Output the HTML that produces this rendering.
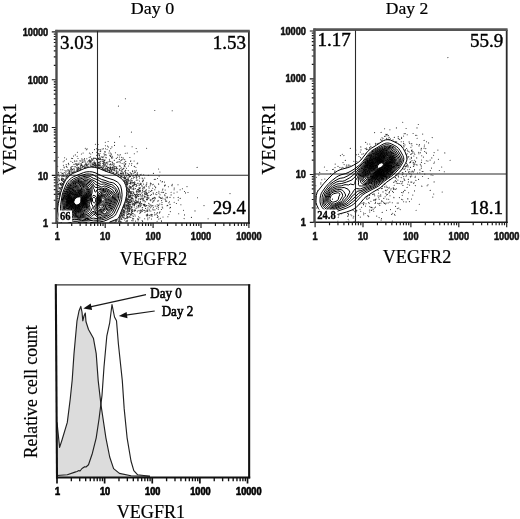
<!DOCTYPE html>
<html><head><meta charset="utf-8"><title>VEGFR flow cytometry</title>
<style>html,body{margin:0;padding:0;background:#fff;}svg{display:block;will-change:transform;filter:grayscale(1);}</style>
</head><body>
<svg width="520" height="519" viewBox="0 0 520 519">
<rect width="520" height="519" fill="#fff"/>
<path d="M57.30 223.1v5M56.80 223.10h-5M71.72 223.1v3M56.80 208.71h-3M80.15 223.1v3M56.80 200.29h-3M86.14 223.1v3M56.80 194.32h-3M90.78 223.1v3M56.80 189.69h-3M94.57 223.1v3M56.80 185.90h-3M97.78 223.1v3M56.80 182.70h-3M100.56 223.1v3M56.80 179.93h-3M103.01 223.1v3M56.80 177.49h-3M105.20 223.1v5M56.80 175.30h-5M119.62 223.1v3M56.80 160.91h-3M128.05 223.1v3M56.80 152.49h-3M134.04 223.1v3M56.80 146.52h-3M138.68 223.1v3M56.80 141.89h-3M142.47 223.1v3M56.80 138.10h-3M145.68 223.1v3M56.80 134.90h-3M148.46 223.1v3M56.80 132.13h-3M150.91 223.1v3M56.80 129.69h-3M153.10 223.1v5M56.80 127.50h-5M167.52 223.1v3M56.80 113.11h-3M175.95 223.1v3M56.80 104.69h-3M181.94 223.1v3M56.80 98.72h-3M186.58 223.1v3M56.80 94.09h-3M190.37 223.1v3M56.80 90.30h-3M193.58 223.1v3M56.80 87.10h-3M196.36 223.1v3M56.80 84.33h-3M198.81 223.1v3M56.80 81.89h-3M201.00 223.1v5M56.80 79.70h-5M215.42 223.1v3M56.80 65.31h-3M223.85 223.1v3M56.80 56.89h-3M229.84 223.1v3M56.80 50.92h-3M234.48 223.1v3M56.80 46.29h-3M238.27 223.1v3M56.80 42.50h-3M241.48 223.1v3M56.80 39.30h-3M244.26 223.1v3M56.80 36.53h-3M246.71 223.1v3M56.80 34.09h-3M248.90 223.1v5M56.80 31.90h-5" stroke="#1a1a1a" stroke-width="1.15" fill="none"/>
<line x1="248.9" y1="31.099999999999998" x2="248.9" y2="223.79999999999998" stroke="#2a2a2a" stroke-width="1.8"/>
<line x1="55.4" y1="223.1" x2="249.8" y2="223.1" stroke="#1a1a1a" stroke-width="1.5"/>
<line x1="56.5" y1="29.9" x2="56.5" y2="223.79999999999998" stroke="#4a4a4a" stroke-width="2.4"/>
<line x1="55.3" y1="31.099999999999998" x2="249.8" y2="31.099999999999998" stroke="#555" stroke-width="2.7"/>
<text x="57.3" y="240.4" font-family="Liberation Sans, sans-serif" font-size="10.1" font-weight="bold" text-anchor="middle" textLength="5.1" lengthAdjust="spacingAndGlyphs" fill="#111" stroke="#111" stroke-width="0.55">1</text>
<text x="48.199999999999996" y="227.29999999999998" font-family="Liberation Sans, sans-serif" font-size="10.1" font-weight="bold" text-anchor="end" textLength="5.1" lengthAdjust="spacingAndGlyphs" fill="#111" stroke="#111" stroke-width="0.55">1</text>
<text x="105.2" y="240.4" font-family="Liberation Sans, sans-serif" font-size="10.1" font-weight="bold" text-anchor="middle" textLength="10.2" lengthAdjust="spacingAndGlyphs" fill="#111" stroke="#111" stroke-width="0.55">10</text>
<text x="48.199999999999996" y="179.5" font-family="Liberation Sans, sans-serif" font-size="10.1" font-weight="bold" text-anchor="end" textLength="10.2" lengthAdjust="spacingAndGlyphs" fill="#111" stroke="#111" stroke-width="0.55">10</text>
<text x="153.10000000000002" y="240.4" font-family="Liberation Sans, sans-serif" font-size="10.1" font-weight="bold" text-anchor="middle" textLength="15.299999999999999" lengthAdjust="spacingAndGlyphs" fill="#111" stroke="#111" stroke-width="0.55">100</text>
<text x="48.199999999999996" y="131.7" font-family="Liberation Sans, sans-serif" font-size="10.1" font-weight="bold" text-anchor="end" textLength="15.299999999999999" lengthAdjust="spacingAndGlyphs" fill="#111" stroke="#111" stroke-width="0.55">100</text>
<text x="201.0" y="240.4" font-family="Liberation Sans, sans-serif" font-size="10.1" font-weight="bold" text-anchor="middle" textLength="20.4" lengthAdjust="spacingAndGlyphs" fill="#111" stroke="#111" stroke-width="0.55">1000</text>
<text x="48.199999999999996" y="83.90000000000002" font-family="Liberation Sans, sans-serif" font-size="10.1" font-weight="bold" text-anchor="end" textLength="20.4" lengthAdjust="spacingAndGlyphs" fill="#111" stroke="#111" stroke-width="0.55">1000</text>
<text x="248.90000000000003" y="240.4" font-family="Liberation Sans, sans-serif" font-size="10.1" font-weight="bold" text-anchor="middle" textLength="25.5" lengthAdjust="spacingAndGlyphs" fill="#111" stroke="#111" stroke-width="0.55">10000</text>
<text x="48.199999999999996" y="36.10000000000001" font-family="Liberation Sans, sans-serif" font-size="10.1" font-weight="bold" text-anchor="end" textLength="25.5" lengthAdjust="spacingAndGlyphs" fill="#111" stroke="#111" stroke-width="0.55">10000</text>
<line x1="97.5" y1="31" x2="97.5" y2="223" stroke="#2a2a2a" stroke-width="1.1"/>
<line x1="57" y1="175.2" x2="248" y2="175.2" stroke="#2a2a2a" stroke-width="1.1"/>
<path d="M61.5 222.5 60.1 221.0 59.4 219.2 57.8 211.0 57.7 207.5 58.3 203.5 60.8 192.2 63.2 185.0 64.7 181.5 66.2 179.2 68.0 177.1 70.2 175.1 72.2 173.7 84.0 168.7 88.2 167.4 91.2 167.0 94.8 167.4 99.0 168.4 106.0 171.4 112.8 173.6 116.2 175.2 120.2 177.7 122.5 179.6 124.4 182.2 125.8 185.5 126.5 188.2 126.7 191.5 126.6 194.8 126.1 198.0 125.0 202.0 119.2 216.7 118.3 218.2 117.2 219.2 112.5 220.8 109.3 222.5M71.4 222.5 68.8 222.0 66.8 221.4 65.4 220.8 64.2 219.8 62.9 217.5 60.9 211.2 60.5 208.2 60.7 204.5 62.2 195.0 63.4 191.0 65.8 185.0 67.1 182.5 68.8 180.3 71.4 178.0 73.8 176.6 83.5 172.6 86.2 171.9 89.5 171.7 92.2 171.9 95.0 172.7 104.8 177.2 113.8 180.0 117.2 181.9 119.3 183.8 120.7 186.2 121.6 190.0 122.1 194.8 121.7 199.5 120.6 203.8 119.4 206.8 116.3 213.5 115.4 215.0 114.5 215.9 113.3 216.8 107.0 220.0 103.8 221.2 99.8 221.9 94.0 222.1 90.4 222.5M87.3 222.5 82.2 221.9 77.9 222.5M77.0 221.3 74.0 221.3 70.5 220.6 68.5 219.9 66.0 218.4 65.0 217.4 64.2 216.2 62.2 210.0 62.0 208.2 62.1 202.2 63.3 194.5 64.6 191.0 68.1 184.0 69.0 182.5 70.0 181.4 73.5 178.8 77.5 177.2 81.0 175.5 86.2 174.0 89.5 174.0 91.8 174.4 93.2 174.8 96.2 176.7 101.8 179.5 105.0 180.4 109.5 182.2 112.2 182.6 113.2 182.9 115.0 184.0 117.1 186.0 118.3 188.0 119.7 191.8 120.2 195.5 120.1 198.5 119.4 201.2 118.4 204.0 114.2 213.0 112.9 214.8 106.5 218.5 104.8 219.1 101.5 219.9 97.5 220.3 93.5 220.1 88.8 220.9 81.5 220.5 77.0 221.3M89.2 219.5 86.5 219.7 82.2 219.0 78.8 219.5 74.2 219.6 71.8 219.1 70.0 218.4 68.2 217.0 66.0 215.6 65.4 214.8 64.2 212.3 63.4 209.5 63.4 205.5 62.9 202.8 63.7 196.5 64.1 194.5 68.9 185.0 70.4 182.8 71.8 181.6 73.8 180.4 80.5 177.4 82.5 176.8 87.0 176.0 89.0 176.1 90.2 176.4 93.2 178.2 98.0 179.9 101.0 181.9 104.8 182.4 109.2 184.1 111.8 184.6 112.8 185.1 115.5 187.8 116.9 189.8 118.2 192.8 118.7 195.8 118.4 198.8 116.5 204.0 112.6 212.2 111.5 213.6 106.5 216.8 101.5 218.6 100.0 218.8 98.0 218.8 93.5 218.1 92.2 218.4 89.2 219.5M88.0 218.5 86.0 218.5 83.0 217.6 79.2 218.4 76.2 218.0 73.5 218.0 72.0 217.6 70.8 217.0 66.8 213.5 65.1 211.2 64.5 209.2 64.3 205.2 63.8 202.5 64.3 197.0 64.7 195.0 69.5 185.8 71.0 183.5 72.0 182.6 73.2 181.8 76.5 180.5 78.8 179.3 83.5 178.0 85.5 177.7 88.0 177.7 89.2 178.0 91.5 179.5 94.4 180.8 96.5 182.3 100.5 184.2 101.5 184.4 103.5 184.0 104.8 184.0 108.0 185.5 111.7 186.8 114.0 188.3 114.9 189.2 117.0 193.8 117.4 195.5 117.0 198.5 115.4 203.5 114.5 205.4 111.2 211.3 107.3 215.0 106.0 215.7 103.5 216.4 101.2 217.4 99.5 217.6 98.2 217.4 97.2 217.0 96.3 216.2 95.0 214.7 94.0 214.4 93.5 214.6 92.4 216.0 91.5 216.8 89.5 218.0 88.0 218.5M79.8 217.5 78.8 217.6 76.2 217.0 73.5 216.8 71.5 216.0 70.3 215.0 66.7 211.2 65.9 210.0 65.5 208.5 64.7 202.5 64.9 200.2 64.9 197.8 65.1 196.0 65.6 194.8 68.1 190.2 70.0 186.2 71.2 184.5 72.2 183.3 73.8 182.4 76.5 181.4 79.0 180.3 80.0 180.1 82.0 180.1 84.8 179.0 86.5 179.0 88.2 179.5 92.5 181.4 93.3 182.0 94.5 183.5 95.5 184.4 99.0 185.8 101.0 187.0 102.0 187.1 104.0 186.0 105.0 186.0 109.7 188.0 113.0 190.2 114.0 192.0 115.7 194.0 116.0 194.8 116.1 196.0 115.6 199.0 114.4 203.2 112.7 206.2 111.2 209.2 110.2 210.5 108.2 212.0 106.6 214.2 105.5 214.9 102.8 215.1 100.5 216.1 99.5 216.2 98.0 215.7 95.0 213.2 93.5 212.8 92.5 213.2 91.2 214.8 90.3 215.8 88.0 217.1 86.5 217.3 82.8 216.7 79.8 217.5M79.8 216.8 78.5 216.8 74.0 215.9 71.8 214.8 69.2 212.5 67.7 210.8 66.8 209.1 66.0 206.8 65.7 203.5 65.8 200.5 65.6 198.0 65.8 196.0 66.6 194.2 68.9 190.2 70.6 186.5 71.8 184.9 73.0 183.7 79.0 181.3 82.5 181.4 85.0 180.4 86.2 180.3 88.5 181.2 90.8 181.9 91.7 182.5 92.6 183.5 94.5 186.8 95.1 187.2 96.0 187.5 98.5 187.5 101.8 188.8 102.8 188.7 104.8 188.0 106.0 188.2 110.5 190.7 113.2 192.9 114.5 194.2 114.9 195.2 114.9 196.2 114.5 199.0 113.5 202.7 111.8 205.3 110.2 209.0 109.2 209.9 106.9 211.0 106.6 211.5 106.2 212.9 105.8 213.5 104.8 213.8 102.8 213.6 100.0 214.6 99.0 214.6 97.8 214.1 94.2 211.7 93.0 211.4 92.0 212.0 89.8 214.5 88.0 215.5 86.2 216.0 82.0 216.0 79.8 216.8M94.8 202.8 95.2 202.2 95.6 201.2 95.7 199.8 95.6 198.8 95.2 198.1 94.8 197.7 94.0 197.5 93.2 197.5 92.6 198.0 92.3 198.8 92.6 201.2 93.0 202.2 93.5 202.6 94.2 202.9 94.8 202.8M79.2 216.0 78.0 216.0 74.2 215.1 72.0 213.9 70.0 212.1 68.9 210.8 67.1 207.8 66.5 206.0 66.3 203.8 66.5 200.2 66.3 197.8 66.6 195.8 67.8 193.2 69.9 190.0 71.4 186.5 72.2 185.4 73.2 184.6 76.2 183.2 78.8 182.4 82.2 182.3 85.2 181.7 86.2 181.7 90.0 183.0 91.3 184.0 92.5 185.7 93.5 188.4 94.5 189.8 94.7 191.5 95.0 191.9 95.5 192.0 96.1 191.8 96.4 191.2 96.9 190.0 98.0 189.3 99.0 189.3 101.8 189.9 104.5 189.3 105.2 189.3 106.5 189.7 109.8 191.6 112.2 193.4 113.3 194.5 113.7 195.5 113.7 196.8 112.7 201.8 112.2 202.8 110.8 204.8 109.4 208.2 108.5 209.0 105.8 209.9 104.1 211.5 103.3 212.0 101.0 212.9 99.2 213.2 98.0 213.0 96.5 212.2 95.0 210.8 94.0 209.2 93.8 208.2 93.9 207.2 95.8 204.3 96.5 202.5 96.8 201.0 96.8 199.0 96.5 197.4 96.0 196.5 94.0 195.4 93.0 195.5 92.0 196.5 91.4 197.8 91.3 203.0 91.6 204.2 92.9 206.2 93.1 207.2 92.0 208.7 90.5 211.7 89.0 213.2 86.0 214.7 84.5 215.1 81.5 215.4 79.2 216.0M79.5 215.0 77.8 215.1 73.5 213.9 71.3 212.2 69.7 210.5 67.5 206.9 67.0 205.2 66.8 203.5 67.1 200.2 66.9 197.8 67.1 196.2 68.2 193.5 70.6 190.2 72.2 186.8 73.2 185.6 76.5 184.2 79.2 183.4 84.8 182.9 85.8 182.9 89.0 184.1 90.5 185.1 91.5 186.5 92.1 189.2 92.1 192.8 90.6 197.5 90.5 200.8 89.1 204.0 89.2 205.0 90.0 207.2 89.9 209.0 89.5 210.0 89.0 210.8 85.4 213.8 83.8 214.4 79.5 215.0M101.0 211.8 99.0 211.9 97.5 211.5 96.4 210.5 95.8 209.0 95.9 206.8 97.6 201.5 97.4 194.5 98.3 192.5 98.8 191.8 99.5 191.2 102.0 190.9 104.2 190.3 105.2 190.3 106.7 191.0 111.8 194.5 112.3 195.2 112.5 196.0 112.4 198.0 111.4 202.0 110.0 204.2 108.6 207.5 107.8 208.1 105.5 208.8 102.8 211.0 101.0 211.8M79.2 214.0 77.5 214.0 73.8 213.2 72.0 212.0 70.6 210.5 68.0 206.5 67.4 205.0 67.3 203.2 67.6 200.0 67.6 196.2 68.6 193.8 71.4 190.5 72.6 187.5 73.5 186.4 75.5 185.6 78.5 184.9 80.8 184.1 83.2 183.8 85.2 183.9 87.3 184.8 89.8 186.5 90.5 187.6 90.9 189.5 91.0 193.0 89.9 197.5 89.7 200.2 88.3 202.8 88.0 203.8 88.0 205.0 88.6 207.5 88.6 208.5 88.4 209.2 87.8 210.1 84.3 213.2 82.8 213.8 79.2 214.0M101.5 210.6 100.0 210.7 98.5 210.5 97.5 209.8 96.9 208.5 96.9 206.8 98.3 201.5 98.1 198.2 98.2 196.2 98.9 194.2 100.0 192.9 103.8 191.3 105.0 191.3 106.2 191.9 110.2 195.1 111.1 196.5 111.2 198.0 110.4 201.8 108.0 206.3 107.2 207.0 105.2 207.7 103.0 209.8 101.5 210.6M79.5 213.0 77.2 213.1 74.2 212.6 72.7 211.8 71.3 210.2 68.4 206.0 67.8 204.5 67.7 203.0 68.1 199.8 68.1 196.2 68.5 195.0 69.0 194.0 72.0 190.8 73.1 188.0 74.0 187.0 76.0 186.3 79.0 186.0 81.9 184.8 83.2 184.6 84.8 184.7 86.6 185.5 88.4 187.2 89.5 189.0 90.1 191.2 90.1 193.5 89.1 197.5 88.8 199.8 87.5 202.2 87.2 203.3 87.2 205.0 87.5 208.2 87.2 209.0 86.5 210.0 83.8 212.4 82.2 212.9 79.5 213.0M101.0 209.5 99.8 209.4 98.8 209.1 98.2 208.5 97.8 207.8 97.8 206.5 98.9 201.5 98.6 198.5 98.7 197.0 99.5 195.2 100.5 194.1 103.5 192.6 104.8 192.5 108.2 194.9 109.6 196.2 110.0 197.8 109.5 200.8 109.0 202.0 107.2 205.5 104.8 206.9 102.5 209.0 101.0 209.5M79.0 212.3 77.5 212.4 75.5 212.2 74.2 211.9 73.2 211.4 72.0 210.2 68.9 205.8 68.3 204.5 68.1 203.2 68.6 199.8 68.6 196.0 69.1 194.8 69.7 193.8 72.6 191.0 73.8 188.5 74.5 187.6 76.2 187.0 79.2 187.2 82.2 185.6 83.2 185.4 84.5 185.5 85.8 186.0 86.9 187.0 88.8 190.0 89.4 192.0 89.1 194.8 87.8 199.8 86.7 203.0 86.5 208.0 86.1 209.0 85.5 209.8 83.2 211.5 82.0 211.9 79.0 212.3M101.5 208.0 100.5 208.0 99.8 207.8 99.2 207.3 99.1 206.8 99.1 204.0 99.5 201.2 99.1 199.0 99.1 197.8 99.7 196.2 100.8 195.1 102.5 194.2 104.0 194.0 106.8 195.3 108.0 196.1 108.7 197.2 108.7 198.5 108.0 201.8 106.7 204.5 106.0 205.1 104.2 206.0 102.2 207.7 101.5 208.0M79.2 211.5 76.2 211.6 74.8 211.4 73.8 210.9 72.5 209.9 69.2 205.5 68.7 204.2 68.5 203.0 69.0 199.8 68.9 197.0 69.0 196.0 69.9 194.2 73.0 191.5 74.4 189.0 75.1 188.2 76.5 187.9 79.5 188.2 80.5 187.9 82.8 186.5 84.5 186.5 85.3 186.8 86.0 187.3 88.3 190.8 88.7 192.5 88.5 194.5 86.2 202.3 85.6 207.2 85.2 208.5 84.2 209.8 82.8 210.7 81.5 211.2 79.2 211.5M102.5 205.8 101.8 205.9 101.0 205.8 100.5 205.4 100.1 204.8 99.8 203.5 100.0 201.0 99.6 198.2 99.9 197.0 100.8 196.0 102.0 195.2 103.5 195.0 104.8 195.4 106.8 196.7 107.3 197.5 107.4 198.5 106.9 201.8 106.0 203.9 105.3 204.5 102.5 205.8M78.5 211.0 76.0 211.0 73.8 210.2 72.7 209.2 69.5 205.1 69.0 204.0 68.9 203.0 69.5 199.8 69.3 197.0 69.5 196.0 70.3 194.5 73.4 191.8 75.0 189.6 75.6 189.0 76.8 188.8 78.8 189.2 79.8 189.2 80.8 188.9 83.0 187.6 83.8 187.5 84.5 187.6 85.5 188.3 87.5 191.0 87.9 192.0 88.0 193.0 87.8 195.0 85.9 201.8 85.0 206.5 84.2 208.5 83.0 209.7 81.5 210.4 78.5 211.0M103.2 204.3 102.5 204.5 101.8 204.4 101.2 204.1 100.8 203.5 100.5 202.5 100.6 201.0 100.1 198.8 100.3 197.8 100.9 196.8 101.9 196.0 103.0 195.7 104.0 196.0 105.5 197.0 106.1 198.0 106.3 199.0 106.0 201.5 105.3 203.2 104.8 203.7 103.2 204.3M77.5 210.5 75.2 210.2 73.5 209.3 69.8 204.7 69.3 203.8 69.2 202.8 69.9 199.8 69.8 197.0 69.9 196.0 70.9 194.5 73.7 192.2 76.0 189.9 77.0 189.8 79.8 190.0 83.2 188.8 84.2 188.8 85.2 189.5 86.6 191.2 87.1 192.2 87.3 193.5 87.1 195.2 85.5 201.2 84.7 205.5 83.7 208.0 82.5 209.2 80.8 210.0 77.5 210.5M103.2 203.0 102.2 203.1 101.5 202.6 101.2 202.1 101.2 201.0 100.7 199.2 100.8 198.2 101.2 197.5 102.0 196.8 102.8 196.6 103.5 196.7 104.5 197.4 105.1 198.2 105.4 199.2 105.2 200.8 104.8 201.8 104.2 202.6 103.2 203.0M79.0 209.8 76.8 209.9 74.2 209.2 73.0 208.2 70.4 205.0 69.8 203.8 69.6 202.8 70.3 199.8 70.2 196.5 70.7 195.5 71.3 194.8 76.2 190.9 77.0 190.7 80.0 190.6 83.0 189.8 84.0 189.9 85.0 190.5 85.8 191.5 86.4 192.8 86.6 194.0 86.5 195.8 85.2 200.6 84.6 204.2 83.6 206.8 82.5 208.4 81.2 209.2 79.0 209.8M103.0 201.6 102.5 201.6 102.0 201.2 101.6 199.5 101.9 198.2 102.8 197.7 103.2 197.8 103.8 198.2 104.3 199.5 104.0 200.7 103.0 201.6M78.8 209.3 76.5 209.3 74.2 208.6 73.0 207.6 70.5 204.5 70.1 203.8 70.0 202.8 70.7 199.8 70.7 196.5 71.2 195.5 72.0 194.7 76.5 191.7 77.5 191.4 80.2 191.2 82.8 190.8 83.8 190.9 84.5 191.3 85.3 192.2 85.8 193.5 86.0 194.8 85.8 196.2 84.2 204.0 83.2 206.4 82.1 208.0 80.8 208.8 78.8 209.3M78.8 208.8 76.5 208.9 74.5 208.2 73.2 207.2 70.9 204.5 70.5 203.6 70.4 202.8 71.0 199.8 71.2 196.8 71.7 195.8 72.8 194.8 77.0 192.3 79.0 191.8 82.2 191.6 83.2 191.7 84.0 192.1 84.8 192.9 85.2 194.0 85.4 195.0 85.3 196.5 84.5 200.0 83.9 203.8 83.0 205.9 81.8 207.5 80.6 208.2 78.8 208.8M79.0 208.3 76.8 208.4 74.8 207.9 73.5 206.9 71.4 204.5 70.9 203.5 70.7 202.5 71.4 200.0 71.6 197.2 72.0 196.2 73.0 195.2 77.2 192.9 79.2 192.3 82.5 192.3 83.2 192.6 84.1 193.2 84.6 194.2 84.9 195.2 84.8 196.8 84.1 200.0 83.7 203.0 83.0 205.0 81.8 206.8 80.8 207.6 79.0 208.3M77.8 208.0 76.0 207.9 74.5 207.3 73.2 206.1 71.5 204.0 71.2 203.2 71.2 202.2 71.7 200.0 72.1 197.5 72.6 196.5 73.6 195.5 77.8 193.3 79.8 192.8 82.2 193.0 83.0 193.3 83.7 194.0 84.1 194.8 84.4 195.8 84.3 197.0 83.7 199.8 83.2 203.5 82.4 205.2 81.2 206.7 79.8 207.5 77.8 208.0M78.2 207.5 76.5 207.6 75.0 207.1 73.8 206.1 72.0 204.0 71.6 203.2 71.5 202.2 72.4 198.2 72.8 197.3 73.2 196.6 75.0 195.3 78.8 193.6 80.5 193.4 81.8 193.5 82.5 193.8 83.2 194.5 83.9 196.0 83.9 197.2 83.3 199.8 82.9 203.0 82.2 204.7 81.2 206.0 80.0 206.9 78.2 207.5M78.5 207.0 77.2 207.2 76.2 207.1 75.2 206.8 74.5 206.3 72.3 203.8 71.9 202.8 72.0 201.8 73.0 198.0 74.1 196.5 75.5 195.6 78.5 194.2 79.8 194.0 81.2 194.0 82.0 194.3 82.7 194.8 83.2 195.5 83.4 196.2 83.4 197.2 82.9 199.8 82.7 202.5 82.1 204.0 81.1 205.5 80.0 206.4 78.5 207.0M77.5 206.8 76.2 206.7 75.0 206.2 73.7 205.0 72.6 203.5 72.3 202.0 73.2 198.8 74.1 197.2 75.8 196.0 78.8 194.7 80.2 194.5 81.2 194.6 82.0 195.0 82.5 195.5 83.0 196.8 82.2 202.8 81.5 204.2 80.5 205.4 79.0 206.4 77.5 206.8M77.8 206.3 76.0 206.2 74.5 205.2 73.4 204.0 72.8 203.0 72.7 202.2 72.8 201.2 73.7 198.5 75.0 197.0 76.5 196.2 78.5 195.4 80.0 195.1 81.0 195.2 82.0 195.8 82.5 197.0 81.9 202.5 81.2 203.8 80.3 205.0 79.0 205.9 77.8 206.3M78.0 205.8 76.2 205.9 74.8 205.0 73.3 203.0 73.1 202.2 73.2 201.2 74.0 198.8 75.2 197.4 76.5 196.6 78.0 196.0 79.8 195.7 80.8 195.7 81.6 196.2 82.0 197.2 81.5 202.2 81.0 203.4 80.2 204.4 79.1 205.2 78.0 205.8M78.0 205.3 76.5 205.4 75.8 205.2 75.0 204.7 74.2 203.8 73.6 202.8 73.4 202.0 73.5 201.2 74.3 199.0 75.5 197.7 77.8 196.6 79.5 196.2 80.5 196.2 81.2 196.8 81.5 197.5 81.2 202.0 80.7 203.0 80.0 203.9 79.0 204.8 78.0 205.3M78.0 204.8 76.5 205.0 75.2 204.3 74.0 202.8 73.8 202.0 73.9 201.2 74.8 199.1 75.8 198.0 77.5 197.1 80.0 196.7 80.8 197.2 81.0 198.0 80.8 201.8 80.3 202.8 79.8 203.5 78.0 204.8" fill="none" stroke="#000" stroke-width="1.0" stroke-linejoin="round"/>
<path d="M115.9 221.5h.01M132.8 194.9h.01M82.5 166.6h.01M106.1 157.8h.01M80.4 165.7h.01M114.9 170.3h.01M80.1 169.1h.01M127.2 191.9h.01M63.4 179.7h.01M96.6 155.3h.01M124.4 165.4h.01M167.7 205.4h.01M120.6 216.4h.01M100.0 165.5h.01M81.0 168.7h.01M104.7 162.2h.01M168.9 214.5h.01M159.1 176.1h.01M124.5 214.9h.01M123.8 178.0h.01M135.6 202.4h.01M83.0 166.7h.01M122.1 163.5h.01M133.6 182.6h.01M57.7 222.0h.01M129.9 157.5h.01M145.0 191.5h.01M63.7 178.7h.01M77.0 170.1h.01M133.7 193.4h.01M149.0 190.8h.01M124.0 206.5h.01M58.4 186.9h.01M132.9 199.0h.01M130.9 214.8h.01M132.0 200.7h.01M82.1 160.6h.01M150.9 214.5h.01M128.3 202.4h.01M73.9 168.6h.01M95.0 163.4h.01M119.5 216.2h.01M103.0 157.7h.01M108.4 167.6h.01M98.9 149.7h.01M128.6 201.8h.01M66.8 178.2h.01M76.7 164.0h.01M96.5 159.5h.01M58.3 194.7h.01M76.7 170.2h.01M142.1 220.5h.01M57.5 191.1h.01M121.3 216.0h.01M129.5 197.3h.01M161.6 198.5h.01M151.1 205.4h.01M121.5 171.1h.01M142.1 178.0h.01M171.9 185.3h.01M135.7 197.4h.01M136.4 178.7h.01M131.5 207.9h.01M130.3 199.8h.01M121.8 173.8h.01M134.6 204.4h.01M62.4 184.8h.01M93.3 158.6h.01M100.0 161.9h.01M81.6 164.3h.01M99.9 165.6h.01M95.5 164.4h.01M100.3 167.5h.01M136.9 185.6h.01M127.2 153.1h.01M127.2 203.8h.01M140.3 187.9h.01M135.5 221.1h.01M154.1 200.5h.01M98.7 158.3h.01M150.2 185.8h.01M138.8 190.4h.01M100.3 161.4h.01M105.9 157.4h.01M129.2 187.3h.01M109.1 161.6h.01M81.1 163.2h.01M138.5 192.1h.01M98.3 158.4h.01M121.2 214.3h.01M109.2 167.8h.01M174.2 188.1h.01M60.2 187.8h.01M159.4 212.9h.01M121.6 176.4h.01M123.2 158.1h.01M127.1 185.5h.01M118.1 174.5h.01M128.6 203.6h.01M125.5 172.7h.01M104.9 169.8h.01M57.7 196.5h.01M77.4 165.3h.01M142.7 181.7h.01M92.1 166.3h.01M61.7 179.6h.01M184.1 218.6h.01M167.2 196.9h.01M144.3 197.3h.01M127.4 208.1h.01M136.7 190.9h.01M110.5 168.6h.01M137.0 222.4h.01M115.6 220.2h.01M87.0 165.7h.01M137.9 207.8h.01M119.3 217.0h.01M127.1 209.1h.01M73.1 172.4h.01M58.1 174.5h.01M130.0 192.6h.01M116.5 172.9h.01M109.4 159.3h.01M132.3 180.8h.01M131.0 214.1h.01M136.5 194.5h.01M162.1 181.9h.01M108.1 141.5h.01M133.2 175.9h.01M130.1 193.3h.01M156.8 194.6h.01M59.0 188.6h.01M112.6 173.3h.01M104.5 160.0h.01M137.5 201.6h.01M63.6 176.2h.01M59.1 193.4h.01M61.1 191.2h.01M136.9 177.3h.01M135.3 200.1h.01M125.4 182.2h.01M131.4 173.6h.01M116.5 167.5h.01M154.3 179.4h.01M57.9 196.3h.01M126.6 180.1h.01M128.3 179.1h.01M146.6 148.3h.01M152.7 202.3h.01M59.0 188.9h.01M89.8 161.0h.01M81.4 165.8h.01M57.7 182.5h.01M79.1 163.0h.01M130.6 196.3h.01M132.2 183.2h.01M129.7 213.7h.01M156.7 192.5h.01M126.6 186.3h.01M100.2 159.4h.01M129.4 190.9h.01M60.1 222.3h.01M139.6 190.7h.01M64.3 181.4h.01M103.4 161.7h.01M130.9 183.9h.01M82.9 166.1h.01M103.2 167.9h.01M93.7 158.1h.01M125.1 211.7h.01M77.9 167.1h.01M123.3 168.2h.01M129.4 208.1h.01M105.4 164.7h.01M108.0 170.3h.01M130.0 199.0h.01M98.3 162.6h.01M121.8 211.8h.01M142.0 199.1h.01M94.5 149.6h.01M110.2 222.2h.01M74.9 161.6h.01M109.6 171.5h.01M110.7 164.2h.01M168.8 202.8h.01M130.2 208.0h.01M128.7 197.6h.01M150.8 204.9h.01M128.0 211.3h.01M157.4 215.6h.01M122.9 159.6h.01M138.6 219.1h.01M86.1 163.9h.01M119.9 220.8h.01M123.7 207.7h.01M116.3 220.8h.01M136.3 184.7h.01M141.0 183.4h.01M127.5 206.0h.01M99.2 162.5h.01M61.0 172.3h.01M133.2 200.1h.01M57.7 166.3h.01M126.2 205.6h.01M135.1 196.4h.01M109.9 155.4h.01M128.1 205.4h.01M123.0 210.7h.01M130.2 205.0h.01M132.9 210.8h.01M141.0 205.6h.01M129.5 200.6h.01M59.7 195.7h.01M88.5 160.8h.01M106.0 170.0h.01M88.4 167.4h.01M153.2 192.9h.01M84.6 165.9h.01M104.5 162.2h.01M158.8 219.1h.01M66.3 166.2h.01M92.6 160.2h.01M111.8 158.3h.01M80.8 164.1h.01M103.7 169.6h.01M132.8 218.6h.01M68.6 172.7h.01M120.5 216.8h.01M91.0 161.8h.01M61.3 182.9h.01M130.6 161.5h.01M152.0 216.3h.01M57.7 201.9h.01M115.4 173.9h.01M161.4 209.5h.01M137.5 195.6h.01M97.5 165.2h.01M126.4 179.2h.01M81.9 167.6h.01M129.7 202.4h.01M164.6 185.9h.01M71.9 170.7h.01M127.4 194.7h.01M129.2 214.0h.01M126.3 175.4h.01M112.2 162.0h.01M125.4 179.0h.01M197.1 167.4h.01M76.8 167.5h.01M105.1 154.8h.01M157.6 201.0h.01M126.0 200.7h.01M58.2 181.1h.01M77.9 169.0h.01M143.3 204.7h.01M125.6 164.6h.01M74.3 169.2h.01M110.8 148.6h.01M107.8 167.4h.01M127.4 201.4h.01M125.3 153.2h.01M102.6 159.6h.01M69.8 173.5h.01M128.4 203.1h.01M77.1 168.3h.01M75.4 163.9h.01M114.6 142.4h.01M139.1 187.6h.01M133.4 216.3h.01M130.7 201.1h.01M148.9 198.0h.01M153.4 194.0h.01M138.0 219.4h.01M92.9 159.5h.01M162.0 204.6h.01M133.2 175.3h.01M130.8 217.4h.01M165.6 200.0h.01M57.8 204.3h.01M132.7 185.2h.01M149.3 215.3h.01M158.3 209.3h.01M59.7 187.6h.01M174.0 193.1h.01M129.4 189.6h.01M63.4 181.2h.01M144.6 187.9h.01M142.1 186.3h.01M151.4 194.6h.01M128.6 195.2h.01M126.5 168.3h.01M148.8 186.7h.01M126.5 181.6h.01M122.8 216.8h.01M134.9 196.7h.01M104.4 155.0h.01M125.7 163.5h.01M142.4 198.1h.01M124.1 181.5h.01M111.2 169.1h.01M118.8 174.4h.01M123.2 207.1h.01M131.8 192.8h.01M147.2 198.6h.01M142.3 195.1h.01M85.3 148.3h.01M136.2 148.5h.01M71.5 168.1h.01M129.3 211.0h.01M126.9 185.2h.01M124.9 208.3h.01M127.3 199.5h.01M112.7 157.8h.01M136.6 196.9h.01M137.2 194.1h.01M127.7 184.4h.01M127.5 207.5h.01M106.4 166.1h.01M204.0 205.6h.01M140.8 204.0h.01M142.7 192.1h.01M139.7 178.1h.01M105.6 164.9h.01M128.6 189.6h.01M112.2 164.4h.01M80.2 161.1h.01M136.7 198.0h.01M129.6 176.0h.01M148.8 197.5h.01M77.4 152.3h.01M112.8 168.2h.01M132.5 209.8h.01M140.3 206.6h.01M98.9 162.2h.01M100.0 157.9h.01M61.6 180.4h.01M111.7 222.1h.01M58.9 188.3h.01M119.3 165.9h.01M113.9 168.8h.01M105.1 152.1h.01M124.4 206.6h.01M98.3 165.3h.01M76.6 161.0h.01M93.7 164.8h.01M129.5 209.2h.01M121.7 173.4h.01M148.6 198.3h.01M146.0 185.2h.01M86.7 165.5h.01M130.8 179.9h.01M62.8 169.8h.01M114.3 166.6h.01M153.4 207.3h.01M135.2 203.4h.01M95.8 166.9h.01M99.5 155.5h.01M137.2 151.8h.01M162.9 192.4h.01M153.2 209.9h.01M180.1 189.8h.01M68.8 164.6h.01M126.5 199.2h.01M90.9 163.1h.01M123.9 168.3h.01M62.0 178.5h.01M128.7 180.9h.01M128.5 191.9h.01M123.6 214.0h.01M135.0 210.5h.01M138.2 205.3h.01M125.1 204.2h.01M136.3 175.9h.01M124.3 204.7h.01M129.4 174.8h.01M111.4 154.0h.01M162.1 197.2h.01M70.9 168.5h.01M58.9 179.3h.01M60.5 192.4h.01M138.9 183.2h.01M139.0 198.6h.01M83.8 166.2h.01M58.0 221.8h.01M129.3 204.2h.01M140.4 194.7h.01M103.8 166.5h.01M155.2 197.8h.01M68.3 170.1h.01M78.6 167.6h.01M58.1 198.6h.01M106.1 171.5h.01M81.6 165.2h.01M166.7 201.0h.01M152.5 205.7h.01M116.9 219.8h.01M98.4 158.5h.01M123.2 217.3h.01M141.0 205.3h.01M105.7 170.6h.01M140.7 183.4h.01M112.4 169.4h.01M118.6 221.6h.01M98.6 159.3h.01M128.4 214.3h.01M110.2 166.7h.01M65.4 179.8h.01M128.3 190.8h.01M137.0 192.9h.01M57.8 218.3h.01M128.4 166.0h.01M126.1 208.8h.01M134.0 204.8h.01M119.6 169.9h.01M125.1 178.2h.01M131.4 201.4h.01M138.6 194.6h.01M105.1 170.2h.01M59.0 198.0h.01M130.6 186.9h.01M156.7 208.3h.01M114.3 167.3h.01M134.2 204.3h.01M103.8 156.8h.01M69.5 172.0h.01M126.1 202.6h.01M139.2 184.8h.01M126.4 213.0h.01M108.4 147.0h.01M101.7 156.9h.01M132.1 193.6h.01M164.7 194.9h.01M178.2 197.4h.01M120.5 221.9h.01M127.8 211.1h.01M134.9 182.6h.01M126.8 185.1h.01M63.8 176.2h.01M68.1 171.1h.01M134.3 184.9h.01M125.2 207.0h.01M66.0 172.1h.01M139.5 181.0h.01M61.5 184.5h.01M197.5 197.7h.01M102.4 167.8h.01M124.0 215.5h.01M142.2 207.7h.01M134.5 194.6h.01M72.4 169.2h.01M135.0 184.4h.01M130.3 208.7h.01M135.7 194.9h.01M117.6 157.2h.01M106.6 162.7h.01M147.2 211.5h.01M63.8 175.4h.01M110.2 221.9h.01M102.2 161.4h.01M78.0 169.1h.01M142.6 221.4h.01M64.3 160.7h.01M121.6 176.8h.01M140.3 212.7h.01M147.8 215.5h.01M131.4 132.1h.01M58.6 201.2h.01M129.9 187.2h.01M72.6 158.5h.01M110.7 222.0h.01M132.7 203.8h.01M100.7 150.9h.01M100.4 158.7h.01M127.3 214.5h.01M157.5 178.5h.01M105.3 151.8h.01M124.6 207.1h.01M144.3 204.4h.01M127.5 214.5h.01M124.0 217.6h.01M129.0 196.4h.01M128.0 205.6h.01M122.8 209.6h.01M130.4 188.3h.01M119.2 169.1h.01M95.4 165.1h.01M104.0 169.5h.01M131.5 214.5h.01M114.8 222.5h.01M75.3 154.9h.01M150.6 191.5h.01M105.3 167.0h.01M178.0 184.8h.01M178.3 200.1h.01M130.2 172.5h.01M167.4 197.7h.01M131.5 178.2h.01M140.5 184.4h.01M98.6 165.1h.01M70.9 172.0h.01M120.2 177.6h.01M102.6 163.2h.01M120.2 162.8h.01M230.0 193.6h.01M94.2 166.0h.01M123.3 174.2h.01M89.9 162.6h.01M114.9 220.8h.01M65.8 171.7h.01M158.8 205.1h.01M61.9 186.3h.01M73.5 156.0h.01M58.3 214.1h.01M137.8 180.1h.01M123.0 157.7h.01M142.4 181.0h.01M97.9 165.8h.01M162.9 189.0h.01M153.2 184.3h.01M136.5 202.7h.01M98.1 144.5h.01M57.7 205.1h.01M69.0 173.0h.01M137.6 218.8h.01M170.5 207.4h.01M131.5 206.8h.01M127.9 178.7h.01M135.9 200.1h.01M145.6 201.8h.01M88.2 164.3h.01M144.4 193.0h.01M129.4 185.8h.01M78.0 163.7h.01M123.9 205.9h.01M144.7 218.8h.01M134.6 166.2h.01M147.9 207.9h.01M125.4 177.4h.01M58.9 184.0h.01M131.2 192.9h.01M88.9 163.8h.01M132.9 191.6h.01M152.7 188.3h.01M132.1 146.8h.01M162.0 202.5h.01M136.1 195.8h.01M103.5 163.7h.01M139.0 206.9h.01M114.5 168.6h.01M144.8 205.1h.01M159.9 172.0h.01M100.8 167.0h.01M125.0 203.6h.01M62.8 178.3h.01M128.1 191.4h.01M95.7 163.3h.01M65.0 176.3h.01M138.9 202.9h.01M133.7 192.6h.01M119.9 165.8h.01M120.9 218.3h.01M127.8 199.1h.01M69.2 172.8h.01M160.3 197.6h.01M143.1 200.2h.01M105.3 163.0h.01M94.4 165.5h.01M61.1 189.6h.01M118.8 219.9h.01M128.8 203.0h.01M122.0 171.3h.01M64.0 167.0h.01M128.5 175.1h.01M128.5 193.1h.01M132.1 220.7h.01M92.3 164.4h.01M116.5 168.2h.01M151.4 190.8h.01M106.1 163.3h.01M138.6 216.8h.01M113.7 220.8h.01M66.9 176.2h.01M152.7 184.8h.01M85.8 167.3h.01M107.6 146.1h.01M145.3 192.6h.01M57.8 184.7h.01M119.6 157.0h.01M131.0 187.6h.01M59.6 194.2h.01M144.2 200.5h.01M95.2 165.7h.01M130.7 199.9h.01M62.6 186.8h.01M59.9 193.7h.01M136.4 197.7h.01M61.5 187.5h.01M90.7 161.5h.01M130.6 183.8h.01M97.3 165.1h.01M122.6 169.6h.01M104.1 164.8h.01M77.7 170.4h.01M109.7 168.5h.01M132.7 204.4h.01M94.2 163.7h.01M116.3 171.7h.01M59.5 197.9h.01M140.3 201.7h.01M126.3 181.2h.01M114.3 170.7h.01M121.0 160.4h.01M146.1 205.6h.01M157.2 206.2h.01M131.9 197.1h.01M57.8 191.5h.01M86.8 158.7h.01M97.3 161.0h.01M127.7 208.8h.01M140.5 199.6h.01M99.2 166.0h.01M120.0 222.3h.01M130.5 176.4h.01M132.9 219.1h.01M135.2 195.9h.01M162.7 208.0h.01M78.4 168.7h.01M101.1 167.0h.01M127.3 190.6h.01M95.4 144.3h.01M139.7 203.7h.01M91.8 158.8h.01M94.8 158.3h.01M130.9 182.2h.01M110.5 167.6h.01M134.3 211.3h.01M86.7 164.2h.01M129.5 189.4h.01M119.3 159.4h.01M143.4 180.0h.01M137.1 173.2h.01M133.0 186.0h.01M72.7 162.5h.01M58.5 194.6h.01M131.8 212.9h.01M150.7 200.1h.01M165.2 190.0h.01M170.3 211.6h.01M144.9 204.4h.01M132.2 186.4h.01M109.8 170.0h.01M130.8 204.5h.01M140.6 199.0h.01M64.3 167.8h.01M121.6 213.6h.01M126.7 188.2h.01M115.7 168.5h.01M142.4 190.6h.01M136.3 180.2h.01M131.6 174.7h.01M129.6 211.5h.01M151.7 215.5h.01M116.2 221.2h.01M127.6 183.3h.01M128.5 197.2h.01M135.4 195.6h.01M158.6 183.9h.01M158.6 200.7h.01M128.8 194.2h.01M134.6 181.8h.01M129.6 204.5h.01M120.5 173.0h.01M65.7 173.7h.01M124.5 211.5h.01M66.6 177.7h.01M127.8 183.5h.01M133.7 185.6h.01M143.2 180.8h.01M159.1 196.9h.01M60.6 189.2h.01M152.3 214.7h.01M106.7 162.3h.01M144.7 205.9h.01M119.9 161.6h.01M94.0 164.2h.01M161.3 192.3h.01M87.8 164.2h.01M144.9 212.3h.01M113.8 222.0h.01M58.2 191.5h.01M130.8 215.6h.01M172.3 184.3h.01M60.3 183.9h.01M99.3 159.4h.01M88.2 166.8h.01M91.2 160.2h.01M97.9 165.1h.01M66.4 159.1h.01M121.4 214.7h.01M132.3 202.1h.01M102.2 149.0h.01M71.1 174.0h.01M137.0 196.8h.01M124.8 182.8h.01M121.6 173.9h.01M96.8 165.7h.01M136.0 184.3h.01M134.8 214.7h.01M107.2 168.2h.01M124.9 205.5h.01M125.8 170.2h.01M110.8 172.1h.01M131.3 195.3h.01M84.5 158.6h.01M96.0 164.5h.01M80.2 167.6h.01M96.0 165.1h.01M155.6 194.0h.01M174.2 202.2h.01M146.5 214.9h.01M152.6 198.4h.01M144.7 178.0h.01M143.0 189.2h.01M120.9 221.6h.01M134.4 172.7h.01M119.2 218.6h.01M75.7 166.8h.01M127.0 217.6h.01M134.1 204.2h.01M120.5 173.8h.01M110.7 221.9h.01M125.6 180.6h.01M149.3 204.0h.01M118.9 174.1h.01M128.7 205.1h.01M124.3 212.7h.01M143.7 174.8h.01M122.7 209.0h.01M169.5 201.7h.01M136.1 200.9h.01M150.2 199.9h.01M99.1 163.6h.01M155.6 179.2h.01M59.2 190.9h.01M163.6 192.2h.01M100.6 163.2h.01M59.1 191.6h.01M127.2 212.8h.01M139.1 188.7h.01M133.8 189.0h.01M64.9 181.0h.01M160.4 180.7h.01M57.9 191.9h.01M140.5 201.9h.01M130.1 207.9h.01M106.4 168.7h.01M84.3 160.1h.01M119.7 217.5h.01M144.3 186.7h.01M152.9 198.6h.01M142.2 196.2h.01M127.9 181.2h.01M173.8 197.8h.01M87.7 165.9h.01M75.9 171.2h.01M136.1 186.4h.01M91.5 166.6h.01M61.0 190.7h.01M103.9 163.6h.01M139.8 191.9h.01M134.3 170.9h.01M74.2 171.3h.01M105.4 145.7h.01M178.7 213.7h.01M104.3 170.5h.01M77.0 168.9h.01M58.2 200.0h.01M67.9 173.6h.01M129.0 176.0h.01M140.0 210.4h.01M59.3 192.5h.01M116.9 220.8h.01M136.3 201.0h.01M73.9 171.0h.01M147.5 215.0h.01M134.4 210.0h.01M103.7 161.0h.01M140.6 212.2h.01M124.7 159.6h.01M123.9 207.3h.01M153.7 200.9h.01M136.2 177.1h.01M133.2 173.2h.01M130.2 194.9h.01M76.9 161.0h.01M136.2 201.2h.01M61.7 178.3h.01M59.6 188.1h.01M57.5 211.4h.01M117.9 162.2h.01M127.1 200.3h.01M132.8 182.4h.01M116.7 170.2h.01M120.6 176.3h.01M62.3 180.5h.01M126.8 211.4h.01M130.7 193.5h.01M127.3 187.7h.01M134.4 183.0h.01M101.2 167.6h.01M58.4 184.8h.01M90.6 156.9h.01M74.3 172.0h.01M82.7 167.1h.01M103.8 163.4h.01M146.2 194.8h.01M127.9 207.4h.01M148.6 203.3h.01M146.1 191.0h.01M133.4 195.7h.01M126.5 205.4h.01M117.0 173.1h.01M161.9 204.3h.01M140.2 202.9h.01M162.9 198.7h.01M141.1 198.1h.01M127.4 179.8h.01M137.5 172.9h.01M112.5 167.1h.01M133.8 201.2h.01M62.5 186.5h.01M126.3 206.7h.01M78.0 170.9h.01M150.3 207.7h.01M119.1 220.8h.01M77.8 164.5h.01M60.6 184.7h.01M61.7 176.8h.01M159.8 204.0h.01M102.4 168.4h.01M150.8 200.8h.01M144.3 205.4h.01M127.2 221.5h.01M70.8 171.8h.01M107.2 168.7h.01M112.9 172.6h.01M138.2 194.6h.01M85.2 161.1h.01M59.6 193.8h.01M120.8 168.3h.01M95.1 167.3h.01M125.6 178.3h.01M140.1 196.0h.01M121.1 176.5h.01M92.5 152.6h.01M130.9 214.6h.01M63.5 181.7h.01M133.3 213.7h.01M180.2 198.4h.01M64.4 181.7h.01M158.6 169.0h.01M134.0 203.5h.01M142.8 178.7h.01M98.3 158.9h.01M147.8 219.8h.01M129.4 208.8h.01M130.9 195.5h.01M113.0 167.2h.01M154.8 189.7h.01M64.2 172.6h.01M61.4 189.8h.01M128.2 206.6h.01M167.9 216.8h.01M100.2 149.5h.01M129.3 207.0h.01M128.0 199.3h.01M139.2 185.4h.01M126.9 187.3h.01M99.5 164.7h.01M106.3 155.0h.01M125.8 184.8h.01M98.7 167.5h.01M127.0 204.2h.01M129.1 186.5h.01M64.1 182.0h.01M147.7 210.9h.01M116.2 171.4h.01M146.4 184.3h.01M153.4 173.4h.01M125.6 174.0h.01M145.3 190.3h.01M66.2 164.6h.01M101.0 167.5h.01M112.3 156.3h.01M150.3 195.4h.01M138.5 206.1h.01M59.9 183.2h.01M130.0 206.1h.01M143.3 204.4h.01M123.3 177.3h.01M131.2 199.7h.01M147.6 199.1h.01M138.1 220.8h.01M117.9 172.8h.01M106.1 170.2h.01M116.8 172.8h.01M126.0 199.3h.01M59.7 196.2h.01M125.5 180.8h.01M58.5 193.7h.01M131.6 210.5h.01M184.5 191.5h.01M147.8 218.1h.01M130.3 182.7h.01M98.6 165.6h.01M127.3 173.3h.01M89.4 160.3h.01M90.1 161.8h.01M157.1 221.2h.01M145.6 196.8h.01M133.5 188.1h.01M110.5 169.5h.01M121.0 213.2h.01M99.4 167.6h.01M94.9 158.4h.01M146.9 210.0h.01M128.7 203.4h.01M126.5 198.3h.01M127.4 187.2h.01M127.8 194.9h.01M78.4 169.3h.01M141.2 203.9h.01M63.3 173.9h.01M152.8 209.0h.01M151.9 214.4h.01M146.4 189.8h.01M105.1 169.0h.01M134.3 153.8h.01M120.7 175.7h.01M145.0 194.4h.01M125.5 218.6h.01M124.0 215.2h.01M124.9 146.1h.01M114.5 145.4h.01M127.6 218.1h.01M128.0 212.7h.01M129.7 210.3h.01M141.8 203.5h.01M62.2 183.6h.01M133.0 205.3h.01M141.1 184.1h.01M123.0 173.2h.01M144.0 205.6h.01M132.1 189.3h.01M127.0 182.4h.01M170.0 204.4h.01M109.4 150.9h.01M109.1 170.6h.01M119.5 219.6h.01M136.3 191.7h.01M123.1 179.7h.01M144.8 193.9h.01M154.5 186.1h.01M129.2 197.2h.01M71.8 166.6h.01M134.1 185.1h.01M132.4 195.8h.01M107.8 162.0h.01M146.7 199.5h.01M78.9 164.5h.01M95.2 163.9h.01M128.2 170.6h.01M76.3 163.7h.01M58.7 219.4h.01M130.7 173.7h.01M123.0 214.4h.01M119.5 218.3h.01M141.1 174.3h.01M97.8 166.5h.01M58.6 194.0h.01M135.6 174.8h.01M70.7 169.9h.01M71.6 174.1h.01M127.2 200.9h.01M137.1 163.8h.01M161.4 220.7h.01M160.6 198.2h.01M131.5 182.1h.01M142.8 188.4h.01M116.1 221.2h.01M62.4 175.5h.01M127.3 189.3h.01M149.1 188.1h.01M135.2 216.0h.01M146.6 199.4h.01M129.1 197.1h.01M102.9 169.1h.01M127.7 198.6h.01M147.0 216.1h.01M128.7 202.5h.01M85.2 164.9h.01M134.4 177.2h.01M89.4 161.2h.01M111.2 170.6h.01M80.9 168.6h.01M100.1 164.9h.01M79.0 169.0h.01M105.1 160.0h.01M146.3 186.2h.01M110.4 156.5h.01M124.7 180.4h.01M80.0 160.5h.01M103.9 163.8h.01M121.7 222.3h.01M143.6 184.1h.01M146.8 182.7h.01M146.5 192.6h.01M102.4 157.1h.01M89.4 153.1h.01M121.5 157.2h.01M131.8 163.6h.01M66.9 170.8h.01M115.4 152.8h.01M97.2 160.3h.01M161.6 200.6h.01M66.3 176.5h.01M104.5 151.7h.01M195.0 210.9h.01M121.2 218.7h.01M139.4 203.0h.01M133.2 220.8h.01M132.0 198.5h.01M150.2 215.8h.01M74.2 171.2h.01M77.2 156.2h.01M60.4 184.4h.01M127.3 205.1h.01M71.7 172.1h.01M123.8 215.0h.01M128.1 202.9h.01M137.6 174.6h.01M102.1 169.1h.01M124.0 163.9h.01M100.8 159.3h.01M127.7 188.3h.01M129.9 195.4h.01M78.0 158.5h.01M113.8 172.5h.01M57.4 203.4h.01M92.7 166.6h.01M68.4 163.4h.01M122.4 209.1h.01M168.4 186.8h.01M93.3 164.1h.01M105.6 168.7h.01M95.8 162.8h.01M134.1 161.0h.01M127.6 195.0h.01M139.8 217.7h.01M147.3 199.7h.01M124.7 178.4h.01M119.4 170.3h.01M99.1 168.1h.01M97.8 168.1h.01M121.4 212.7h.01M128.6 189.4h.01M164.5 182.1h.01M125.7 208.7h.01M132.6 211.4h.01M158.8 193.1h.01M159.0 193.0h.01M121.1 212.9h.01M62.1 176.7h.01M127.6 188.3h.01M103.5 148.8h.01M142.4 211.2h.01M130.6 196.6h.01M126.1 198.9h.01M57.8 206.9h.01M127.6 220.3h.01M78.0 169.5h.01M108.2 170.2h.01M121.3 218.0h.01M120.8 173.2h.01M67.3 176.2h.01M99.4 154.9h.01M130.0 191.7h.01M129.8 208.5h.01M156.0 214.2h.01M61.9 173.8h.01M70.6 174.8h.01M119.0 155.1h.01M124.8 177.0h.01M59.6 194.1h.01M122.5 215.7h.01M116.8 166.7h.01M126.2 200.2h.01M139.7 213.2h.01M145.6 208.4h.01M136.0 203.9h.01M90.7 154.0h.01M95.7 165.9h.01M128.9 188.3h.01M134.2 166.6h.01M128.2 177.9h.01M81.1 165.6h.01M97.1 167.3h.01M120.9 219.5h.01M135.4 188.6h.01M150.4 183.0h.01M57.6 222.0h.01M150.4 184.1h.01M91.4 161.8h.01M149.2 209.3h.01M147.0 194.7h.01M127.8 182.9h.01M123.9 207.7h.01M138.4 205.6h.01M131.8 193.7h.01M61.8 187.6h.01M139.6 203.6h.01M128.1 198.9h.01M145.9 211.2h.01M81.9 158.7h.01M146.0 193.7h.01M140.2 190.2h.01M80.6 169.7h.01M125.6 170.2h.01M127.1 194.8h.01M163.0 217.0h.01M113.4 167.0h.01M122.7 211.5h.01M157.2 204.8h.01M120.4 154.8h.01M154.8 215.0h.01M130.5 187.0h.01M143.0 188.6h.01M188.0 192.5h.01M126.6 215.1h.01M83.1 153.0h.01M117.0 173.2h.01M127.5 175.6h.01M180.9 204.7h.01M121.5 215.6h.01M122.7 212.7h.01M169.8 208.0h.01M151.2 206.7h.01M146.6 193.5h.01M60.8 169.8h.01M103.1 165.6h.01M124.9 206.3h.01M135.4 198.0h.01M129.2 217.3h.01M109.4 170.2h.01M130.5 214.5h.01M132.0 188.6h.01M151.3 183.8h.01M137.9 202.3h.01M63.3 179.4h.01M137.3 189.8h.01M171.1 194.9h.01M133.8 188.0h.01M151.1 205.6h.01M120.2 222.0h.01M184.5 214.9h.01M124.0 215.9h.01M146.3 197.3h.01M126.5 206.9h.01M125.7 161.4h.01M126.2 201.4h.01M116.2 168.7h.01M158.7 184.3h.01M58.8 178.3h.01M124.4 203.7h.01M128.9 199.5h.01M155.7 187.0h.01M74.7 166.8h.01M154.9 209.9h.01M114.1 169.3h.01M126.3 184.2h.01M148.8 205.8h.01M110.9 167.2h.01M112.0 167.7h.01M132.9 215.8h.01M139.9 204.9h.01M137.6 202.8h.01M69.2 174.4h.01M62.3 184.9h.01M95.4 158.4h.01M100.3 165.7h.01M97.5 154.5h.01M151.9 190.4h.01M89.6 159.8h.01M128.0 196.2h.01M143.6 198.2h.01M147.5 197.5h.01M98.3 167.9h.01M114.6 174.4h.01M138.1 210.6h.01M68.0 169.5h.01M144.0 191.5h.01M111.9 165.0h.01M98.4 167.6h.01M124.8 213.3h.01M109.6 160.7h.01M127.8 216.4h.01M128.3 201.6h.01M149.3 210.7h.01M98.4 149.7h.01M64.6 180.4h.01M67.7 175.4h.01M132.6 198.0h.01M138.9 205.2h.01M115.3 222.3h.01M128.1 206.8h.01M61.3 179.3h.01M87.0 167.3h.01M138.3 201.6h.01M102.2 169.8h.01M103.5 159.8h.01M128.9 191.7h.01M131.9 200.9h.01M69.5 170.8h.01M144.0 195.7h.01M133.2 185.7h.01M125.2 204.7h.01M108.7 167.4h.01M87.1 148.9h.01M111.5 157.2h.01M110.4 168.0h.01M112.4 222.0h.01M58.8 173.8h.01M104.1 164.1h.01M126.2 197.6h.01M109.4 164.7h.01M170.0 197.4h.01M127.5 202.0h.01M57.5 194.3h.01M125.5 209.0h.01M146.7 184.0h.01M121.7 216.0h.01M119.5 136.7h.01M141.4 210.9h.01M121.9 169.7h.01M133.7 192.2h.01M151.5 219.0h.01M124.1 177.6h.01M115.5 166.8h.01M128.0 217.4h.01M98.3 164.2h.01M57.8 198.6h.01M110.6 163.9h.01M136.9 196.3h.01M101.9 169.0h.01M131.2 197.8h.01M64.9 179.5h.01M130.7 187.2h.01M113.5 165.3h.01M129.3 200.9h.01M112.7 162.9h.01M133.1 198.8h.01M91.7 158.6h.01M126.7 204.5h.01M82.1 161.8h.01M172.0 185.7h.01M130.4 181.8h.01M128.8 205.0h.01M126.3 205.6h.01M110.4 164.7h.01M59.9 193.2h.01M84.3 167.8h.01M74.7 160.8h.01M59.1 176.6h.01M125.5 178.8h.01M128.3 208.7h.01M123.5 205.7h.01M136.8 206.2h.01M123.3 174.1h.01M127.2 200.8h.01M111.9 146.9h.01M172.2 110.7h.01M58.5 184.9h.01M79.8 168.4h.01M127.1 208.5h.01M123.4 210.2h.01M100.2 158.4h.01M72.4 172.4h.01M59.5 196.2h.01M58.2 157.3h.01M123.7 211.3h.01M66.4 166.6h.01M146.1 194.2h.01M95.0 164.0h.01M110.7 156.2h.01M132.1 203.7h.01M125.7 173.1h.01M99.8 156.9h.01M120.8 217.7h.01M66.9 177.6h.01M162.4 190.0h.01M65.4 180.0h.01M105.3 142.3h.01M81.3 165.7h.01M73.5 172.3h.01M91.9 165.1h.01M134.4 201.8h.01M132.7 218.3h.01M158.2 216.7h.01M69.1 173.1h.01M128.1 182.9h.01M126.5 176.8h.01M139.3 176.6h.01M138.5 189.4h.01M104.1 166.3h.01M128.1 199.9h.01M144.7 210.4h.01M130.4 183.7h.01M60.5 184.1h.01M129.8 202.8h.01M128.8 211.1h.01M130.6 202.7h.01M140.0 211.1h.01M129.9 187.3h.01M138.9 198.9h.01M71.6 158.3h.01M134.7 183.8h.01M161.5 221.8h.01M135.1 196.7h.01M117.5 154.8h.01M107.7 163.9h.01M84.1 159.6h.01M62.7 184.9h.01M165.0 199.1h.01M121.6 173.6h.01M125.1 171.2h.01M131.3 187.2h.01M138.2 176.0h.01M125.8 172.2h.01M147.6 193.3h.01M147.7 195.1h.01M106.7 166.7h.01M131.0 192.7h.01M96.7 152.3h.01M130.7 195.1h.01M182.4 188.8h.01M110.7 161.5h.01M94.8 165.6h.01M128.9 174.2h.01M128.8 210.1h.01M105.6 154.7h.01M126.5 198.4h.01M127.2 187.8h.01M148.3 195.8h.01M143.3 210.3h.01M72.8 169.6h.01M131.1 209.6h.01M106.3 157.8h.01M121.5 215.8h.01M126.9 181.5h.01M131.3 198.6h.01M129.5 196.6h.01M95.7 163.1h.01M86.3 165.9h.01M126.6 194.2h.01M138.8 191.6h.01M116.6 173.8h.01M164.7 185.2h.01M133.4 203.7h.01M126.9 209.0h.01M153.3 198.4h.01M158.9 191.3h.01M82.4 162.4h.01M70.2 169.8h.01M118.0 161.6h.01M112.0 171.7h.01M86.3 149.8h.01M110.6 153.0h.01M191.4 217.4h.01M96.4 148.8h.01M136.2 170.2h.01M125.4 98.8h.01M147.4 195.9h.01M57.9 193.5h.01M72.9 166.2h.01M80.9 165.8h.01M120.8 170.8h.01M114.8 170.0h.01M114.1 164.7h.01M208.1 218.7h.01M154.5 212.7h.01M154.2 197.4h.01M167.0 205.8h.01M123.0 174.1h.01M140.3 194.2h.01M67.1 167.2h.01M107.0 166.1h.01M84.0 160.0h.01M130.7 187.6h.01M174.1 189.8h.01M177.1 192.0h.01M104.5 160.7h.01M158.3 207.6h.01M138.4 196.4h.01M185.5 192.9h.01M107.4 170.9h.01M127.8 209.3h.01M110.8 221.7h.01M135.3 172.3h.01M132.8 209.8h.01M92.5 159.8h.01M133.2 186.0h.01M124.1 218.4h.01M93.1 165.0h.01M155.1 198.4h.01M111.4 170.1h.01M97.1 158.2h.01M140.5 191.0h.01M119.6 221.3h.01M124.2 210.2h.01M100.0 153.5h.01M124.7 220.0h.01M137.5 189.5h.01M155.3 206.0h.01M143.1 199.4h.01M64.6 157.7h.01M129.8 180.7h.01M120.8 175.4h.01M154.7 199.0h.01M183.5 210.3h.01M76.6 165.1h.01M124.5 178.7h.01M143.2 187.4h.01M129.6 176.9h.01M58.8 194.0h.01M148.9 192.4h.01M137.3 202.6h.01M119.3 175.3h.01M126.7 199.7h.01M109.5 171.0h.01M133.8 203.3h.01M162.2 207.0h.01M140.9 210.0h.01M93.0 163.7h.01M137.3 211.8h.01M90.2 164.8h.01M127.1 186.9h.01M125.1 166.8h.01M85.1 164.4h.01M86.6 165.0h.01M130.8 160.8h.01M129.2 191.6h.01M80.5 169.6h.01M149.4 206.2h.01M125.7 184.0h.01M63.2 161.8h.01M135.3 209.0h.01M140.9 212.0h.01M123.9 209.7h.01M125.4 170.5h.01M120.2 166.2h.01M142.7 190.7h.01M160.0 211.9h.01M147.7 214.6h.01M130.7 191.6h.01M135.5 195.4h.01M132.9 176.1h.01M127.3 187.3h.01M113.6 220.7h.01M131.7 211.9h.01M134.9 194.3h.01M131.3 211.9h.01M129.2 202.3h.01M133.8 189.6h.01M131.8 220.5h.01M71.8 170.7h.01M150.8 211.0h.01M176.4 203.5h.01M107.4 169.4h.01M120.2 215.2h.01M153.1 201.1h.01M111.3 171.1h.01M113.6 169.7h.01M103.4 167.5h.01M124.3 166.3h.01M63.4 182.9h.01M122.6 177.0h.01M134.3 207.0h.01M79.4 170.6h.01M118.4 106.1h.01M157.3 212.5h.01M165.1 195.7h.01M136.3 208.1h.01M132.1 206.7h.01M125.9 184.3h.01M107.1 149.2h.01M131.3 191.5h.01M96.3 167.1h.01M149.3 217.7h.01M114.0 163.6h.01M126.4 188.0h.01M114.3 166.2h.01M139.6 188.6h.01M98.9 165.2h.01M127.0 216.3h.01M129.4 163.7h.01M144.5 196.6h.01M80.3 166.8h.01M63.4 165.3h.01M146.3 215.1h.01M101.9 159.7h.01M139.9 194.1h.01M82.1 159.3h.01M94.1 161.1h.01M94.2 162.8h.01M84.8 167.3h.01M125.6 209.1h.01M109.0 169.7h.01M121.8 176.9h.01M112.4 221.7h.01M104.7 165.2h.01M112.0 170.1h.01M126.7 192.7h.01M140.3 201.5h.01M148.3 175.4h.01M90.9 166.4h.01M127.4 210.3h.01M62.5 183.5h.01M67.2 175.0h.01M135.8 171.8h.01M138.3 200.0h.01M105.0 168.3h.01M145.5 206.3h.01M187.0 186.6h.01M63.1 176.0h.01M126.4 218.1h.01M94.7 162.3h.01M85.1 167.9h.01M142.6 207.6h.01M101.6 167.4h.01M74.4 172.2h.01M124.6 181.5h.01M123.5 212.4h.01M67.7 177.2h.01M90.3 160.8h.01M127.0 184.4h.01M126.8 197.3h.01M127.4 210.3h.01M122.8 213.4h.01M100.1 151.5h.01M116.7 162.2h.01M114.3 160.4h.01M135.2 175.6h.01M123.0 169.1h.01M65.0 170.5h.01M127.7 193.2h.01M130.2 202.7h.01M129.0 207.0h.01M141.8 196.1h.01M133.7 218.7h.01M123.6 206.0h.01M59.1 194.0h.01M129.4 197.5h.01M126.8 182.2h.01M152.9 205.5h.01M152.0 199.2h.01M160.3 218.2h.01M137.4 183.3h.01M133.8 184.1h.01M110.3 222.0h.01M98.4 153.5h.01M122.8 209.3h.01M74.2 170.9h.01M104.0 153.7h.01M127.3 179.8h.01M133.1 178.6h.01M128.9 213.3h.01M129.5 202.0h.01M66.9 178.6h.01M120.9 222.6h.01M131.6 180.3h.01M128.7 174.7h.01M70.7 167.3h.01M127.8 203.8h.01M147.6 214.0h.01M80.3 169.4h.01M134.7 202.5h.01M124.8 210.4h.01M78.1 169.9h.01M154.7 214.9h.01M146.9 205.6h.01M121.2 167.8h.01M134.5 194.3h.01M132.2 209.8h.01M160.0 194.8h.01M134.4 205.4h.01M93.1 162.5h.01M129.3 183.5h.01M141.8 185.3h.01M113.1 173.5h.01M109.7 170.9h.01M147.2 209.9h.01M57.4 198.2h.01M131.9 207.7h.01M82.1 165.3h.01M91.8 159.7h.01M171.1 192.3h.01M87.8 161.9h.01M159.0 193.0h.01M66.1 174.2h.01M90.3 165.3h.01M124.9 212.2h.01M155.6 187.7h.01M138.7 189.2h.01M96.5 159.0h.01M124.3 162.2h.01M125.1 208.4h.01M127.0 190.7h.01M128.9 205.9h.01M60.4 188.1h.01M103.5 164.2h.01M129.6 195.8h.01M125.9 182.2h.01M58.9 191.4h.01M59.5 180.6h.01M126.8 197.9h.01M58.6 172.4h.01M159.7 197.2h.01M102.2 166.0h.01M144.8 201.8h.01M58.0 221.2h.01M162.5 181.5h.01M129.3 192.3h.01M131.0 206.2h.01M154.8 110.5h.01M140.0 191.4h.01M130.7 197.2h.01M126.9 184.2h.01M157.0 213.6h.01M126.4 202.4h.01M126.2 186.3h.01M135.9 167.3h.01M140.1 174.9h.01M136.9 174.9h.01M129.4 216.2h.01M85.8 162.9h.01M142.1 198.6h.01M139.8 194.3h.01M124.6 178.7h.01M132.5 170.9h.01M165.9 193.4h.01M131.0 213.7h.01M107.4 168.4h.01M133.7 177.2h.01M109.0 153.0h.01M97.8 162.4h.01M141.7 193.0h.01M81.4 154.0h.01M125.9 221.8h.01M62.6 179.8h.01M128.2 201.8h.01M74.0 164.4h.01M113.5 170.0h.01M133.6 189.4h.01M83.9 161.9h.01M130.6 186.6h.01M128.0 177.7h.01M130.9 202.2h.01M122.2 172.2h.01M142.4 209.6h.01M122.6 214.9h.01M71.8 169.5h.01M136.4 202.0h.01M122.2 209.9h.01M137.7 163.0h.01M65.7 178.1h.01M61.3 185.5h.01M135.6 210.6h.01M132.6 213.6h.01M97.8 154.0h.01M166.1 197.7h.01M128.5 208.2h.01M143.0 201.0h.01M126.3 183.4h.01M85.6 167.0h.01M125.3 208.2h.01M60.5 183.6h.01M88.2 167.3h.01M142.4 194.9h.01M124.6 171.3h.01M59.7 195.1h.01M127.1 182.3h.01M128.5 189.3h.01M126.0 199.9h.01M89.2 157.3h.01M123.7 172.9h.01M165.4 185.1h.01M117.4 168.6h.01M134.4 204.5h.01M127.6 217.5h.01M118.0 171.5h.01M128.1 193.0h.01M111.0 155.0h.01M130.3 196.7h.01M146.4 199.8h.01M105.5 148.7h.01M97.8 158.9h.01M60.4 188.4h.01M128.4 213.2h.01M104.0 163.6h.01M113.8 173.1h.01M124.4 205.9h.01M141.1 198.1h.01M92.2 163.9h.01M137.5 191.2h.01M129.6 190.4h.01M136.7 192.1h.01M121.1 176.9h.01M93.4 166.3h.01M124.4 176.2h.01M69.5 171.2h.01M127.5 180.1h.01M122.4 217.1h.01M62.0 188.0h.01M121.5 159.8h.01M122.0 219.2h.01M131.6 212.8h.01M146.0 211.0h.01M165.9 201.4h.01M136.4 175.8h.01M110.0 171.8h.01M158.3 205.7h.01M126.6 220.8h.01M62.5 173.2h.01M58.8 179.7h.01M118.1 171.8h.01M132.6 171.6h.01M128.9 199.2h.01M84.7 167.9h.01M98.8 155.0h.01M125.5 202.1h.01M62.7 181.1h.01M116.3 158.4h.01M157.3 217.4h.01M70.9 161.2h.01M103.7 162.5h.01M131.5 165.2h.01M95.5 164.7h.01M128.2 174.1h.01M128.4 179.9h.01M59.1 220.4h.01" fill="none" stroke="#2a2a2a" stroke-width="1.08" stroke-linecap="round"/>
<rect x="58.5" y="210.5" width="13.5" height="11.5" fill="#fff"/><text x="65.2" y="220" font-family="Liberation Serif, serif" font-weight="bold" font-size="12" stroke="#000" stroke-width="0.3" text-anchor="middle" textLength="10.5" lengthAdjust="spacingAndGlyphs">66</text>
<text x="60" y="49" font-family="Liberation Serif, serif" font-size="19" font-weight="normal" text-anchor="start" stroke="#000" stroke-width="0.42" >3.03</text>
<text x="246" y="49" font-family="Liberation Serif, serif" font-size="19" font-weight="normal" text-anchor="end" stroke="#000" stroke-width="0.42" >1.53</text>
<text x="246" y="214" font-family="Liberation Serif, serif" font-size="19" font-weight="normal" text-anchor="end" stroke="#000" stroke-width="0.42" >29.4</text>
<text x="152.6" y="14.2" font-family="Liberation Serif, serif" font-size="17" font-weight="normal" text-anchor="middle" textLength="43.5" lengthAdjust="spacingAndGlyphs" stroke="#000" stroke-width="0.2" >Day 0</text>
<text x="153.5" y="264.7" font-family="Liberation Serif, serif" font-size="18" font-weight="normal" text-anchor="middle" textLength="67.5" lengthAdjust="spacingAndGlyphs" stroke="#000" stroke-width="0.2" >VEGFR2</text>
<text transform="translate(15.8,138.7) rotate(-90)" font-family="Liberation Serif, serif" font-size="18" text-anchor="middle" textLength="71.5" lengthAdjust="spacingAndGlyphs" stroke="#000" stroke-width="0.2">VEGFR1</text>
<path d="M315.10 222.3v5M314.80 222.30h-5M329.52 222.3v3M314.80 207.90h-3M337.95 222.3v3M314.80 199.48h-3M343.94 222.3v3M314.80 193.51h-3M348.58 222.3v3M314.80 188.87h-3M352.37 222.3v3M314.80 185.08h-3M355.58 222.3v3M314.80 181.88h-3M358.36 222.3v3M314.80 179.11h-3M360.81 222.3v3M314.80 176.66h-3M363.00 222.3v5M314.80 174.48h-5M377.42 222.3v3M314.80 160.08h-3M385.85 222.3v3M314.80 151.66h-3M391.84 222.3v3M314.80 145.68h-3M396.48 222.3v3M314.80 141.05h-3M400.27 222.3v3M314.80 137.26h-3M403.48 222.3v3M314.80 134.06h-3M406.26 222.3v3M314.80 131.28h-3M408.71 222.3v3M314.80 128.84h-3M410.90 222.3v5M314.80 126.65h-5M425.32 222.3v3M314.80 112.25h-3M433.75 222.3v3M314.80 103.83h-3M439.74 222.3v3M314.80 97.86h-3M444.38 222.3v3M314.80 93.22h-3M448.17 222.3v3M314.80 89.43h-3M451.38 222.3v3M314.80 86.23h-3M454.16 222.3v3M314.80 83.46h-3M456.61 222.3v3M314.80 81.01h-3M458.80 222.3v5M314.80 78.82h-5M473.22 222.3v3M314.80 64.43h-3M481.65 222.3v3M314.80 56.01h-3M487.64 222.3v3M314.80 50.03h-3M492.28 222.3v3M314.80 45.40h-3M496.07 222.3v3M314.80 41.61h-3M499.28 222.3v3M314.80 38.41h-3M502.06 222.3v3M314.80 35.63h-3M504.51 222.3v3M314.80 33.19h-3M506.70 222.3v5M314.80 31.00h-5" stroke="#1a1a1a" stroke-width="1.15" fill="none"/>
<line x1="506.7" y1="29.7" x2="506.7" y2="223.0" stroke="#2a2a2a" stroke-width="1.8"/>
<line x1="313.4" y1="222.3" x2="507.59999999999997" y2="222.3" stroke="#1a1a1a" stroke-width="1.5"/>
<line x1="314.5" y1="28.5" x2="314.5" y2="223.0" stroke="#4a4a4a" stroke-width="2.4"/>
<line x1="313.3" y1="29.7" x2="507.59999999999997" y2="29.7" stroke="#555" stroke-width="2.7"/>
<text x="315.1" y="239.60000000000002" font-family="Liberation Sans, sans-serif" font-size="10.1" font-weight="bold" text-anchor="middle" textLength="5.1" lengthAdjust="spacingAndGlyphs" fill="#111" stroke="#111" stroke-width="0.55">1</text>
<text x="305.90000000000003" y="225.8" font-family="Liberation Sans, sans-serif" font-size="10.1" font-weight="bold" text-anchor="end" textLength="5.1" lengthAdjust="spacingAndGlyphs" fill="#111" stroke="#111" stroke-width="0.55">1</text>
<text x="363.0" y="239.60000000000002" font-family="Liberation Sans, sans-serif" font-size="10.1" font-weight="bold" text-anchor="middle" textLength="10.2" lengthAdjust="spacingAndGlyphs" fill="#111" stroke="#111" stroke-width="0.55">10</text>
<text x="305.90000000000003" y="177.97500000000002" font-family="Liberation Sans, sans-serif" font-size="10.1" font-weight="bold" text-anchor="end" textLength="10.2" lengthAdjust="spacingAndGlyphs" fill="#111" stroke="#111" stroke-width="0.55">10</text>
<text x="410.9" y="239.60000000000002" font-family="Liberation Sans, sans-serif" font-size="10.1" font-weight="bold" text-anchor="middle" textLength="15.299999999999999" lengthAdjust="spacingAndGlyphs" fill="#111" stroke="#111" stroke-width="0.55">100</text>
<text x="305.90000000000003" y="130.15" font-family="Liberation Sans, sans-serif" font-size="10.1" font-weight="bold" text-anchor="end" textLength="15.299999999999999" lengthAdjust="spacingAndGlyphs" fill="#111" stroke="#111" stroke-width="0.55">100</text>
<text x="458.8" y="239.60000000000002" font-family="Liberation Sans, sans-serif" font-size="10.1" font-weight="bold" text-anchor="middle" textLength="20.4" lengthAdjust="spacingAndGlyphs" fill="#111" stroke="#111" stroke-width="0.55">1000</text>
<text x="305.90000000000003" y="82.32499999999999" font-family="Liberation Sans, sans-serif" font-size="10.1" font-weight="bold" text-anchor="end" textLength="20.4" lengthAdjust="spacingAndGlyphs" fill="#111" stroke="#111" stroke-width="0.55">1000</text>
<text x="506.7" y="239.60000000000002" font-family="Liberation Sans, sans-serif" font-size="10.1" font-weight="bold" text-anchor="middle" textLength="25.5" lengthAdjust="spacingAndGlyphs" fill="#111" stroke="#111" stroke-width="0.55">10000</text>
<text x="305.90000000000003" y="34.5" font-family="Liberation Sans, sans-serif" font-size="10.1" font-weight="bold" text-anchor="end" textLength="25.5" lengthAdjust="spacingAndGlyphs" fill="#111" stroke="#111" stroke-width="0.55">10000</text>
<line x1="355.5" y1="30.5" x2="355.5" y2="222.5" stroke="#2a2a2a" stroke-width="1.1"/>
<line x1="314.5" y1="174" x2="506" y2="174" stroke="#2a2a2a" stroke-width="1.1"/>
<path d="M332.5 215.3 329.2 215.5 326.8 215.2 324.5 214.4 322.2 213.0 320.2 211.0 318.4 208.5 316.8 205.2 316.0 202.5 316.0 200.2 316.3 195.5 316.7 193.8 317.2 192.2 318.3 190.5 323.6 183.8 328.0 178.9 333.5 173.6 337.5 170.9 341.0 169.4 347.2 167.8 350.2 166.8 353.5 165.2 358.1 162.5 360.8 160.2 366.8 152.5 369.5 149.7 371.5 148.2 376.4 145.2 381.0 142.1 383.8 140.5 385.5 139.9 387.0 139.7 388.8 139.7 390.5 140.1 393.0 141.2 397.5 143.4 399.5 144.6 401.1 146.0 403.2 148.5 405.1 152.0 406.7 156.2 407.0 159.0 406.6 161.0 405.4 163.5 402.2 169.0 399.5 172.2 394.5 176.6 386.9 182.0 380.2 187.9 372.8 192.2 365.9 196.8 364.0 198.6 359.2 204.4 356.5 207.0 354.2 208.8 351.0 210.4 346.2 212.1 338.0 214.3 332.5 215.3M334.2 212.0 332.0 212.2 329.5 212.0 327.0 211.3 325.0 210.3 323.4 209.0 322.0 207.2 320.9 205.2 320.2 203.0 320.0 201.0 320.1 198.2 320.5 195.8 321.1 193.8 322.2 191.8 325.6 187.0 328.8 183.4 332.2 180.4 336.2 177.3 338.2 176.0 341.0 174.8 345.8 173.5 348.0 172.6 352.0 170.5 355.0 168.6 359.8 164.8 361.9 162.8 367.8 154.8 370.8 151.6 373.0 150.0 383.0 144.2 384.8 143.4 386.2 143.1 387.8 143.0 389.3 143.2 391.8 144.1 394.8 145.6 396.8 146.8 398.4 148.2 400.3 150.8 402.9 155.5 403.7 157.8 403.8 159.8 402.9 162.5 400.4 166.8 398.4 169.5 395.3 172.8 392.0 175.8 384.9 180.8 378.5 186.1 365.2 193.2 362.8 194.8 360.6 196.8 355.7 202.2 353.8 204.0 351.8 205.4 348.9 207.0 346.2 208.2 336.8 211.4 334.2 212.0M334.0 210.8 332.2 210.9 330.0 210.6 328.2 210.1 326.2 209.1 324.8 207.9 323.3 206.2 322.5 204.8 322.1 203.2 322.0 201.5 322.1 197.5 322.3 196.0 322.8 194.5 324.8 191.0 328.4 186.2 330.0 184.4 333.5 181.7 338.0 179.1 340.2 178.3 343.8 177.7 348.2 175.7 354.5 171.2 356.5 169.5 358.9 167.0 363.2 163.0 367.9 156.2 370.3 153.2 372.0 151.8 374.5 150.2 383.5 145.6 385.0 145.0 386.5 144.7 389.0 145.0 391.8 145.8 394.2 147.0 396.1 148.5 397.8 150.5 400.6 155.0 402.0 158.0 402.2 160.0 401.6 162.0 399.0 166.8 397.4 168.8 393.1 173.2 390.2 175.9 384.8 179.6 377.5 185.3 372.8 187.8 367.7 190.2 360.8 194.2 358.6 196.0 353.8 201.0 348.8 204.8 345.8 206.4 335.7 210.2 334.0 210.8M333.0 209.8 331.5 209.7 329.8 209.3 328.2 208.7 326.8 207.8 325.4 206.5 324.3 205.2 323.8 204.0 323.5 202.8 323.9 196.8 324.8 193.8 326.9 190.5 331.1 185.5 332.5 184.3 336.8 181.9 339.2 181.2 342.8 181.2 344.8 180.6 349.8 177.7 352.2 175.9 355.5 173.0 359.7 167.8 364.0 163.5 367.8 157.8 370.7 154.0 372.2 152.6 374.2 151.3 383.5 146.9 386.0 146.2 388.8 146.3 391.0 146.8 393.0 147.7 394.6 149.0 395.6 150.2 399.1 155.5 400.6 158.8 400.8 160.2 399.6 163.5 398.0 166.5 391.3 173.8 388.0 176.5 384.5 178.7 376.8 184.4 372.2 186.9 367.3 189.0 358.7 193.2 355.2 196.8 348.2 203.1 347.0 204.0 345.0 205.1 341.7 206.2 335.0 209.3 333.0 209.8M333.8 208.5 332.5 208.7 331.2 208.5 330.0 208.1 328.8 207.5 327.2 206.4 325.9 205.0 325.2 204.0 324.8 202.8 324.8 201.0 325.1 198.2 326.0 194.2 327.5 191.8 330.5 188.0 332.5 186.4 336.8 184.2 338.0 183.9 341.8 183.5 346.7 182.0 351.9 180.0 353.6 178.0 356.0 176.2 357.6 172.8 360.3 168.5 364.5 164.0 367.6 159.2 370.8 155.1 372.1 153.8 373.8 152.5 378.5 150.1 383.8 147.9 385.5 147.4 387.5 147.3 390.0 147.6 391.8 148.3 393.1 149.2 394.3 150.8 397.8 156.2 399.2 159.0 399.5 160.5 398.6 163.5 397.2 166.2 390.5 173.5 387.6 176.0 384.2 178.0 381.5 180.1 377.0 183.1 372.5 185.7 366.0 188.2 361.0 190.6 358.0 191.1 357.1 191.5 356.3 192.2 354.7 194.2 352.2 196.0 350.3 198.8 346.3 202.8 344.0 204.1 340.8 205.3 338.0 206.8 333.8 208.5M333.2 207.5 331.2 207.4 329.7 206.5 326.6 203.5 326.2 202.8 325.9 201.8 326.0 198.5 327.1 194.8 328.4 192.2 330.8 189.4 332.8 187.9 337.2 186.1 341.2 185.9 343.8 185.0 345.0 184.7 346.2 184.7 348.5 185.0 350.5 184.0 353.0 184.7 353.8 184.6 354.2 184.4 354.8 183.5 355.4 180.5 357.5 177.5 358.9 173.0 360.7 169.5 362.0 167.8 365.0 164.4 368.1 159.5 372.3 154.5 374.0 153.2 376.2 151.9 385.0 148.4 386.8 148.2 389.5 148.5 391.0 149.0 391.9 149.8 394.9 153.8 397.5 158.2 398.1 159.8 398.2 161.2 397.4 164.2 396.4 166.2 393.1 169.5 389.5 173.5 387.0 175.6 383.8 177.5 380.8 179.9 377.2 182.0 372.2 184.6 367.5 186.4 360.5 188.8 359.2 188.9 356.5 188.5 355.5 188.8 353.7 190.5 352.5 192.8 350.7 195.0 348.9 197.8 344.5 202.2 342.6 203.5 340.0 204.5 334.8 207.0 333.2 207.5M361.5 186.0 359.5 185.9 358.8 185.5 358.5 185.0 358.4 184.2 358.6 182.2 358.2 180.0 358.5 178.2 360.3 172.5 361.7 169.5 362.9 167.8 365.6 164.5 368.8 159.5 373.0 154.7 375.0 153.3 377.5 152.1 384.0 149.4 385.5 149.0 388.2 149.2 389.5 149.5 390.5 150.0 394.1 154.2 396.7 159.8 397.0 161.5 396.8 163.2 396.3 165.0 395.6 166.2 392.8 168.8 389.5 172.5 387.2 174.7 386.0 175.6 383.2 177.2 380.0 179.6 377.0 181.3 373.0 183.1 369.5 184.1 366.8 185.5 365.2 185.8 361.5 186.0M333.8 206.3 332.2 206.4 330.8 205.8 327.5 202.3 326.9 201.0 326.8 199.2 327.2 197.5 328.5 194.0 330.0 191.7 331.2 190.5 332.5 189.6 336.0 188.2 337.2 187.9 341.2 187.8 344.2 187.5 348.0 189.2 349.4 191.0 349.8 192.2 347.1 197.2 342.5 202.3 336.0 205.5 333.8 206.3M366.2 184.5 364.2 184.5 362.8 184.1 361.8 183.6 361.1 182.8 359.8 179.2 359.9 177.5 361.5 172.2 362.6 169.5 363.6 167.8 366.0 164.7 369.1 160.0 372.8 155.8 374.8 154.1 378.5 152.3 385.0 149.8 387.2 149.8 388.5 150.1 389.7 150.8 391.0 152.0 393.0 154.2 395.2 159.0 395.8 161.0 395.9 162.8 395.7 164.5 395.2 165.8 392.3 168.5 389.2 172.0 386.8 174.4 380.5 178.7 376.5 180.7 366.2 184.5M333.8 205.3 332.2 205.2 331.0 204.5 328.5 201.8 327.8 200.5 327.6 199.5 327.8 198.5 329.6 194.0 330.8 192.4 332.0 191.3 336.5 189.6 337.8 189.4 339.8 189.5 341.2 189.7 342.2 190.1 343.8 191.5 345.1 193.8 345.6 195.0 345.5 196.0 343.5 198.2 342.2 200.7 341.5 201.5 336.0 204.5 333.8 205.3M367.0 183.3 366.0 183.5 365.0 183.4 364.0 183.0 363.3 182.5 361.4 179.8 361.0 178.8 361.0 177.8 362.6 172.0 363.8 168.8 369.0 161.0 373.5 155.8 375.0 154.7 376.5 153.8 379.8 152.4 385.2 150.5 387.2 150.5 389.2 151.5 390.8 152.8 392.2 154.5 393.1 156.0 394.3 159.0 394.9 161.0 395.1 162.8 395.0 164.2 394.5 165.5 392.0 168.0 388.1 172.5 386.0 174.5 384.8 175.4 378.8 179.0 371.2 181.9 367.0 183.3M334.2 204.0 333.0 204.1 331.8 203.5 329.8 201.6 328.8 200.2 328.6 199.5 328.7 198.5 330.1 195.0 331.4 193.2 333.0 192.2 337.5 191.0 339.0 191.0 340.2 191.5 341.3 192.2 342.3 194.0 342.7 195.2 342.5 196.2 340.3 200.0 339.0 201.5 337.6 202.5 334.2 204.0M367.2 182.3 365.5 182.2 364.0 181.3 362.4 179.2 362.2 178.5 362.2 177.5 363.7 171.0 364.5 168.5 369.6 161.0 373.0 157.1 374.4 155.8 376.0 154.7 379.1 153.2 384.5 151.4 385.8 151.1 387.5 151.4 389.2 152.3 390.6 153.5 391.7 155.0 392.8 157.0 393.8 159.5 394.3 161.2 394.4 163.0 394.2 164.5 393.7 165.5 388.0 172.0 385.8 174.1 384.2 175.2 378.8 178.4 373.5 180.2 370.5 181.5 367.2 182.3M334.0 202.0 333.0 202.2 332.2 202.0 330.8 201.0 330.0 200.0 329.9 198.8 331.0 195.8 332.0 194.6 333.5 193.8 337.2 192.8 338.1 192.8 338.9 193.0 339.7 193.8 339.8 194.8 338.8 196.8 338.4 199.0 338.0 199.9 337.0 200.9 334.0 202.0M368.0 181.3 366.2 181.0 364.5 180.0 363.5 178.6 363.3 177.0 364.4 171.0 365.1 168.5 365.9 167.0 370.1 161.0 373.2 157.5 374.8 156.1 376.5 155.1 380.0 153.5 384.2 152.1 385.8 151.8 387.5 152.1 389.2 153.1 390.4 154.2 391.5 155.8 392.6 158.0 393.4 160.2 393.8 162.0 393.7 163.5 393.4 164.8 392.8 165.8 387.8 171.6 385.3 174.0 383.8 175.1 378.5 177.8 373.5 179.5 370.2 180.9 368.0 181.3M332.5 199.4 332.5 198.8 332.8 199.0 332.5 199.4M370.0 180.3 369.0 180.4 368.0 180.3 367.0 179.9 366.0 179.2 364.9 178.0 364.6 176.0 364.9 171.8 365.6 168.8 366.5 167.0 370.1 161.8 372.8 158.6 374.5 157.0 376.5 155.7 380.0 154.0 382.8 153.1 385.5 152.5 387.0 152.6 388.8 153.5 389.9 154.5 390.8 155.8 392.0 158.0 392.8 160.0 393.2 161.8 393.1 163.2 392.8 164.5 392.3 165.5 388.0 170.8 385.3 173.5 383.8 174.7 378.8 177.2 373.0 179.1 370.0 180.3M370.0 179.5 369.0 179.6 368.0 179.3 367.0 178.5 366.3 177.8 365.6 176.0 365.4 173.2 365.8 170.4 366.4 168.2 368.2 165.2 370.8 161.6 373.0 159.0 374.8 157.4 376.8 156.1 381.0 154.2 383.8 153.3 385.8 153.1 387.2 153.4 388.8 154.2 390.0 155.5 391.4 157.8 392.2 159.8 392.6 161.8 392.6 163.2 392.2 164.5 389.8 168.0 386.0 172.2 384.4 173.8 383.0 174.7 378.0 176.9 370.0 179.5M370.2 178.8 369.2 178.8 368.5 178.5 367.1 177.2 366.3 175.2 366.1 172.5 366.4 170.2 367.1 168.2 368.7 165.2 371.2 161.8 373.3 159.2 375.0 157.7 377.5 156.3 381.2 154.6 383.5 153.9 385.5 153.6 387.0 153.9 388.5 154.7 389.8 156.0 391.0 158.1 391.8 160.0 392.1 161.8 392.0 163.2 391.6 164.5 389.2 168.2 385.0 172.7 382.8 174.5 375.5 177.3 370.2 178.8M370.5 178.0 369.0 177.8 368.2 177.3 367.7 176.5 366.9 174.5 366.8 172.0 367.3 169.5 368.6 166.5 369.5 164.8 371.6 161.8 373.5 159.5 375.0 158.2 378.0 156.6 381.5 155.0 383.5 154.4 385.5 154.2 387.0 154.5 388.2 155.2 389.5 156.5 390.6 158.2 391.3 160.0 391.6 161.8 391.5 163.2 391.1 164.5 388.7 168.2 384.8 172.5 382.5 174.2 374.8 177.0 370.5 178.0M371.2 177.3 369.8 177.2 368.5 176.3 367.7 174.5 367.4 172.2 367.9 169.8 369.2 166.2 370.1 164.5 371.9 162.0 373.8 159.8 375.0 158.8 378.2 157.0 381.5 155.5 383.5 154.9 385.2 154.7 386.8 155.0 388.0 155.7 389.2 157.0 390.2 158.7 390.9 160.5 391.1 162.0 390.9 163.2 390.5 164.5 388.2 168.2 384.8 172.0 382.5 173.8 374.8 176.6 371.2 177.3M373.0 176.5 371.0 176.6 369.7 176.2 368.8 175.2 368.2 173.2 368.2 171.5 368.6 169.2 369.9 165.8 371.3 163.5 373.5 160.7 374.8 159.5 376.5 158.4 380.8 156.3 382.8 155.6 384.8 155.3 386.2 155.5 387.7 156.2 388.8 157.2 389.7 158.8 390.4 160.5 390.6 162.0 390.4 163.2 390.0 164.5 388.2 167.8 385.1 171.2 382.5 173.4 375.0 176.0 373.0 176.5M373.0 176.0 371.2 176.0 370.1 175.5 369.2 174.4 368.8 172.8 368.9 170.5 369.9 166.8 370.7 165.0 371.9 163.2 374.0 160.7 375.2 159.6 381.2 156.5 383.0 156.0 384.8 155.8 386.2 156.1 387.5 156.8 388.5 157.8 389.2 159.0 389.8 160.5 390.0 162.0 390.0 163.2 389.6 164.5 387.7 167.8 384.8 171.0 382.5 173.0 375.0 175.6 373.0 176.0M374.2 175.3 372.5 175.5 371.0 175.1 370.1 174.2 369.6 173.0 369.5 170.8 370.1 167.8 370.7 165.8 371.8 164.0 373.8 161.5 375.0 160.2 380.5 157.3 382.2 156.6 384.0 156.4 385.5 156.5 387.0 157.2 388.0 158.1 388.7 159.2 389.3 160.8 389.5 162.0 389.5 163.0 389.2 164.2 387.7 167.2 385.0 170.4 382.5 172.6 381.2 173.1 378.8 173.8 374.2 175.3M374.2 174.8 372.8 174.9 371.5 174.5 370.7 173.8 370.2 172.2 370.1 170.2 370.7 167.2 371.3 165.5 372.2 163.9 374.2 161.5 375.4 160.5 381.0 157.6 382.8 157.0 384.2 156.9 385.5 157.1 386.8 157.8 387.6 158.5 388.2 159.5 388.9 161.0 389.1 162.2 389.0 163.2 388.7 164.5 387.2 167.3 384.5 170.4 382.2 172.3 381.0 172.8 374.2 174.8M374.2 174.3 373.0 174.2 371.9 173.8 371.1 172.8 370.8 171.5 370.7 169.8 371.2 167.0 371.8 165.2 372.8 163.8 374.5 161.8 375.8 160.7 381.2 157.9 382.8 157.5 384.0 157.4 385.2 157.6 386.5 158.3 387.2 159.0 388.0 160.2 388.5 161.5 388.6 162.8 388.1 165.0 386.7 167.5 384.0 170.5 382.0 172.0 380.8 172.5 374.2 174.3M375.5 173.6 374.0 173.7 372.8 173.4 372.0 172.7 371.5 171.5 371.3 169.8 371.5 167.2 372.0 165.8 372.8 164.2 374.5 162.3 375.8 161.2 381.2 158.4 382.8 158.0 384.0 157.9 385.2 158.2 386.2 158.8 387.0 159.5 387.6 160.5 388.2 162.8 387.8 164.8 386.6 167.0 384.2 169.8 382.0 171.6 380.8 172.2 375.5 173.6M375.8 173.0 374.2 173.1 373.2 172.8 372.5 172.0 372.0 171.0 371.8 169.5 372.0 167.2 372.4 165.8 373.3 164.2 374.8 162.5 376.0 161.5 381.2 158.8 382.5 158.5 383.8 158.4 384.8 158.6 385.8 159.1 387.0 160.5 387.5 161.5 387.8 162.8 387.5 164.8 386.4 166.8 384.1 169.5 382.0 171.2 380.5 171.9 375.8 173.0M376.2 172.5 375.0 172.6 374.0 172.4 373.2 171.8 372.6 170.8 372.3 169.2 372.4 167.2 372.8 165.8 373.5 164.5 374.8 163.0 376.2 161.8 381.0 159.4 382.2 159.0 383.5 158.9 384.5 159.1 385.5 159.6 386.8 161.0 387.4 163.0 387.1 164.8 386.0 166.8 383.8 169.3 381.8 171.0 380.5 171.5 376.2 172.5M376.5 172.0 375.5 172.1 374.5 172.0 373.6 171.2 373.1 170.2 372.8 168.8 372.9 167.0 373.3 165.8 373.9 164.5 375.0 163.2 376.6 162.0 378.3 161.0 381.2 159.7 382.5 159.3 383.5 159.3 384.5 159.6 385.2 160.0 386.5 161.5 387.0 163.2 386.6 165.0 385.7 166.8 383.5 169.1 381.5 170.7 380.1 171.2 376.5 172.0M377.2 171.5 376.0 171.7 375.0 171.5 374.2 171.0 373.7 170.2 373.4 169.0 373.4 167.2 373.6 166.0 374.2 164.8 375.2 163.5 376.5 162.5 378.2 161.4 380.5 160.4 382.8 159.8 383.8 159.8 384.8 160.3 386.0 161.5 386.5 163.0 386.4 164.5 385.6 166.2 383.8 168.4 381.6 170.2 380.2 170.9 377.2 171.5M377.8 171.0 376.5 171.2 375.5 171.1 374.8 170.8 374.2 170.0 373.9 168.8 373.8 167.2 374.1 166.0 374.7 164.8 375.6 163.8 377.0 162.6 378.5 161.7 380.5 160.8 381.8 160.3 382.8 160.2 383.8 160.3 384.5 160.7 385.5 161.8 386.1 163.2 386.0 164.8 385.2 166.2 383.8 168.0 381.5 169.9 380.0 170.6 377.8 171.0M377.0 170.8 376.2 170.8 375.5 170.5 374.9 170.0 374.5 169.0 374.3 167.8 374.5 166.5 374.8 165.5 375.4 164.5 376.4 163.5 378.2 162.2 381.2 160.9 383.0 160.6 384.4 161.2 385.3 162.2 385.8 163.8 385.5 165.0 384.7 166.5 382.5 168.7 381.0 169.8 379.5 170.3 377.0 170.8M377.8 170.3 376.8 170.3 376.0 170.1 375.5 169.8 375.0 169.0 374.8 168.0 374.9 166.8 375.8 164.8 376.8 163.8 378.5 162.5 381.0 161.3 382.8 161.0 384.0 161.5 384.9 162.5 385.3 163.8 385.2 164.8 384.5 166.2 383.2 167.5 381.2 169.2 379.8 169.9 377.8 170.3M378.2 169.8 376.5 169.7 376.0 169.4 375.6 168.8 375.4 168.0 375.4 167.0 376.1 165.0 377.4 163.8 379.8 162.2 382.0 161.5 382.8 161.5 383.5 161.8 384.3 162.5 384.9 163.8 384.8 164.8 384.2 165.9 383.2 167.1 381.2 168.8 380.0 169.4 378.2 169.8M378.5 169.3 377.0 169.3 376.1 168.5 376.0 167.0 376.7 165.0 378.7 163.2 380.2 162.4 382.0 161.9 383.2 162.2 384.0 163.0 384.4 164.0 384.4 164.8 383.9 165.8 383.0 166.8 381.0 168.4 380.0 168.9 378.5 169.3M378.8 168.8 377.4 168.8 376.7 168.0 376.6 166.8 377.2 165.2 378.1 164.2 379.9 163.0 381.5 162.4 382.8 162.5 383.5 163.2 383.9 164.0 383.9 164.8 383.5 165.7 382.8 166.5 381.0 167.9 378.8 168.8M378.5 168.3 377.6 168.0 377.3 167.2 377.5 166.0 378.0 165.0 379.4 163.8 380.3 163.2 381.5 162.8 382.5 163.0 383.1 163.8 383.4 164.5 383.3 165.0 382.9 165.8 380.8 167.5 378.5 168.3" fill="none" stroke="#000" stroke-width="1.0" stroke-linejoin="round"/>
<path d="M389.3 192.3h.01M363.3 202.9h.01M394.3 137.4h.01M419.3 204.3h.01M404.9 144.9h.01M353.2 217.9h.01M385.4 190.3h.01M398.8 208.1h.01M354.9 211.6h.01M384.6 203.3h.01M390.0 179.6h.01M362.0 203.2h.01M414.1 182.2h.01M409.6 169.2h.01M418.6 179.4h.01M359.0 156.5h.01M403.6 136.0h.01M415.4 162.0h.01M317.3 210.6h.01M402.7 181.6h.01M375.2 199.5h.01M411.5 199.0h.01M384.6 186.8h.01M423.0 171.5h.01M356.6 211.7h.01M382.0 137.7h.01M381.1 132.4h.01M344.1 164.6h.01M424.0 148.3h.01M395.1 177.2h.01M406.1 201.9h.01M386.5 210.3h.01M386.8 199.1h.01M346.9 167.3h.01M418.9 153.8h.01M407.8 198.9h.01M413.6 164.1h.01M359.7 204.3h.01M383.0 138.3h.01M409.1 141.9h.01M417.1 165.0h.01M391.1 188.7h.01M416.8 135.2h.01M408.9 171.6h.01M320.8 184.0h.01M421.3 148.4h.01M382.3 188.2h.01M396.7 141.8h.01M347.5 213.3h.01M379.8 205.5h.01M360.4 157.6h.01M421.9 186.3h.01M400.8 181.4h.01M398.6 176.9h.01M411.1 143.8h.01M370.9 201.2h.01M378.8 143.2h.01M371.5 207.2h.01M411.8 182.1h.01M410.7 161.5h.01M378.3 143.6h.01M364.0 202.9h.01M421.1 149.9h.01M338.0 166.4h.01M419.9 169.9h.01M450.1 160.3h.01M431.8 157.9h.01M412.3 171.2h.01M379.8 196.0h.01M417.0 127.9h.01M415.3 176.2h.01M356.5 154.7h.01M321.8 179.7h.01M374.2 208.0h.01M414.9 164.5h.01M386.4 194.9h.01M382.1 201.4h.01M419.4 144.6h.01M373.5 200.1h.01M421.3 166.7h.01M326.0 217.0h.01M399.7 139.4h.01M402.3 172.5h.01M396.3 183.0h.01M377.9 203.4h.01M395.3 180.5h.01M412.1 151.2h.01M428.6 142.9h.01M402.7 199.8h.01M353.8 161.3h.01M378.6 193.1h.01M405.0 190.4h.01M341.6 213.7h.01M398.3 203.0h.01M422.7 134.1h.01M386.6 138.2h.01M395.4 177.5h.01M373.7 194.0h.01M348.1 213.2h.01M389.7 139.6h.01M412.1 150.0h.01M383.6 202.3h.01M397.2 203.0h.01M375.6 144.2h.01M404.1 133.8h.01M409.1 171.6h.01M356.6 210.4h.01M385.9 134.2h.01M406.5 175.0h.01M403.6 143.6h.01M411.5 150.2h.01M377.1 143.5h.01M421.7 186.1h.01M406.0 176.3h.01M392.3 221.1h.01M339.9 167.6h.01M424.6 151.5h.01M392.6 191.4h.01M404.1 146.8h.01M395.6 206.4h.01M346.4 165.1h.01M399.9 144.7h.01M414.4 170.7h.01M366.7 198.9h.01M403.7 176.6h.01M334.9 170.9h.01M426.5 153.2h.01M388.7 139.6h.01M400.2 209.6h.01M335.2 164.1h.01M361.9 154.3h.01M399.2 183.5h.01M412.4 153.0h.01M408.3 179.4h.01M421.4 162.4h.01M408.0 166.9h.01M343.9 155.6h.01M388.7 199.2h.01M402.3 174.7h.01M389.0 192.9h.01M373.1 209.6h.01M398.1 138.0h.01M404.3 179.9h.01M383.8 198.4h.01M397.8 183.4h.01M413.8 156.0h.01M358.4 154.2h.01M390.0 195.8h.01M430.1 160.1h.01M385.8 193.3h.01M399.4 197.6h.01M434.1 152.6h.01M403.8 143.5h.01M398.9 144.3h.01M316.8 193.0h.01M410.0 159.0h.01M410.8 154.4h.01M384.9 187.0h.01M350.2 165.9h.01M346.2 166.9h.01M363.7 214.7h.01M398.9 173.6h.01M413.1 133.5h.01M393.2 187.9h.01M424.8 163.5h.01M395.5 211.3h.01M444.8 152.9h.01M414.0 165.8h.01M428.3 178.5h.01M356.8 210.3h.01M411.5 158.3h.01M361.0 149.9h.01M403.5 191.6h.01M363.6 153.7h.01M403.1 173.0h.01M402.9 192.7h.01M358.4 215.2h.01M398.6 173.7h.01M386.8 139.3h.01M401.2 177.6h.01M432.2 137.6h.01M428.0 184.8h.01M439.3 170.5h.01M368.6 202.6h.01M412.0 145.7h.01M348.1 165.0h.01M363.5 213.0h.01M413.0 162.7h.01M438.4 159.2h.01M396.7 175.5h.01M378.1 190.5h.01M394.2 185.3h.01M401.1 145.3h.01M367.3 149.2h.01M415.4 162.0h.01M379.2 199.2h.01M360.7 211.2h.01M369.7 212.0h.01M419.0 145.9h.01M404.6 169.3h.01M365.5 206.1h.01M324.8 179.0h.01M410.4 167.4h.01M413.7 162.3h.01M434.1 181.9h.01M417.1 138.3h.01M406.5 165.8h.01M418.3 124.5h.01M367.9 215.7h.01M366.4 149.6h.01M360.8 146.9h.01M315.8 203.9h.01M365.5 154.0h.01M348.0 166.7h.01M393.4 192.5h.01M393.8 188.4h.01M316.7 208.0h.01M389.9 129.7h.01M388.1 202.9h.01M396.4 188.8h.01M360.3 217.1h.01M418.8 152.4h.01M414.1 153.1h.01M340.4 155.6h.01M386.1 203.1h.01M390.3 138.7h.01M373.8 211.2h.01M369.3 197.6h.01M407.0 158.1h.01M370.8 146.3h.01M367.3 144.0h.01M365.7 142.4h.01M375.1 203.4h.01M411.3 157.3h.01M407.8 165.4h.01M426.3 160.7h.01M372.7 194.4h.01M392.7 213.3h.01M412.8 195.1h.01M381.0 203.0h.01M402.2 183.0h.01M441.7 167.0h.01M369.5 148.0h.01M347.8 216.4h.01M389.5 191.6h.01M390.5 209.6h.01M410.3 162.1h.01M408.2 157.3h.01M378.6 197.7h.01M371.0 147.0h.01M406.3 154.6h.01M416.6 164.7h.01M368.8 198.6h.01M414.8 154.2h.01M414.5 169.5h.01M369.8 206.6h.01M401.5 199.3h.01M341.4 168.1h.01M387.3 189.8h.01M410.9 147.3h.01M408.1 151.4h.01M409.3 152.0h.01M366.5 148.1h.01M345.9 222.0h.01M393.9 197.8h.01M415.3 185.6h.01M382.5 186.5h.01M407.8 184.2h.01M411.6 153.8h.01M409.7 162.7h.01M417.5 173.0h.01M444.3 171.8h.01M414.3 160.3h.01M385.1 196.7h.01M376.7 216.1h.01M415.6 161.2h.01M356.9 161.8h.01M348.6 214.4h.01M366.1 197.7h.01M333.2 169.4h.01M404.9 166.1h.01M420.3 164.2h.01M404.8 180.3h.01M413.7 183.5h.01M358.2 221.7h.01M353.1 210.5h.01M366.0 203.7h.01M407.1 187.4h.01M434.4 162.0h.01M406.3 165.9h.01M424.3 146.7h.01M393.7 189.4h.01M384.3 203.4h.01M353.7 216.2h.01M363.5 204.5h.01M395.4 177.0h.01M410.9 182.1h.01M413.4 171.9h.01M379.0 204.0h.01M349.0 165.1h.01M405.2 133.6h.01M423.4 157.1h.01M318.9 175.1h.01M405.1 168.2h.01M414.5 190.9h.01M398.5 138.7h.01M424.1 140.4h.01M390.8 190.0h.01M395.3 141.5h.01M437.9 150.1h.01M380.8 196.0h.01M389.2 187.3h.01M407.8 198.6h.01M402.8 147.4h.01M411.1 171.9h.01M369.4 210.0h.01M403.5 145.7h.01M403.3 169.0h.01M416.1 210.3h.01M389.9 202.1h.01M386.2 186.0h.01M355.7 161.4h.01M416.7 157.9h.01M410.6 177.0h.01M369.6 195.4h.01M375.5 200.8h.01M391.7 214.4h.01M365.2 148.6h.01M421.7 155.7h.01M421.6 160.0h.01M403.6 201.8h.01M367.9 215.5h.01M402.7 122.3h.01M332.6 169.5h.01M354.1 221.4h.01M405.4 149.6h.01M338.4 217.1h.01M380.7 194.7h.01M405.6 171.4h.01M396.4 178.8h.01M384.3 184.4h.01M360.0 209.3h.01M406.1 163.1h.01M351.8 215.8h.01M409.8 173.6h.01M393.7 141.2h.01M326.8 216.4h.01M411.7 176.0h.01M421.0 165.2h.01M381.3 188.6h.01M427.1 185.8h.01M433.6 155.3h.01M385.8 190.3h.01M381.5 218.6h.01M407.6 150.1h.01M370.9 207.5h.01M369.3 203.2h.01M405.6 150.3h.01M402.9 174.0h.01M362.0 154.0h.01M335.0 167.6h.01M406.6 148.5h.01M386.2 190.7h.01M342.9 167.4h.01M375.4 207.1h.01M324.4 167.0h.01M395.5 177.8h.01M375.4 143.2h.01M384.9 183.9h.01M363.5 204.4h.01M371.6 210.4h.01M374.5 200.0h.01M381.1 220.1h.01M326.9 170.5h.01M432.9 175.2h.01M407.0 156.2h.01M402.3 195.3h.01M421.3 168.2h.01M361.6 207.3h.01M407.3 164.2h.01M414.7 163.7h.01M384.6 128.8h.01M389.1 137.4h.01M342.3 154.2h.01M398.2 175.9h.01M432.8 197.1h.01M401.6 138.4h.01M338.8 215.1h.01M415.1 177.5h.01M397.3 208.6h.01M401.6 192.5h.01M387.0 135.7h.01M337.8 221.1h.01M383.0 191.9h.01M350.9 214.7h.01M388.2 139.0h.01M412.0 160.6h.01M411.5 150.9h.01M405.4 166.7h.01M393.9 197.3h.01M396.4 127.9h.01M388.4 135.6h.01M407.2 134.7h.01M315.8 185.8h.01M424.4 145.0h.01M375.3 207.2h.01M401.2 183.7h.01M374.6 132.6h.01M398.2 136.5h.01M395.2 189.4h.01M397.9 180.1h.01M387.1 134.4h.01M379.1 217.6h.01M317.9 190.5h.01M422.2 171.5h.01M375.5 202.5h.01M395.0 215.2h.01M347.0 221.5h.01M409.4 201.6h.01M424.8 174.1h.01M315.6 196.3h.01M406.1 166.6h.01M411.3 157.5h.01M369.8 144.0h.01M374.7 195.8h.01M427.9 161.1h.01M413.4 166.5h.01M387.4 187.3h.01M419.8 172.7h.01M348.9 221.1h.01M407.7 169.7h.01M416.9 144.4h.01M410.3 176.3h.01M395.0 181.5h.01M348.1 215.6h.01M413.1 151.7h.01M369.1 149.4h.01M367.6 196.8h.01M328.6 218.0h.01M361.1 159.1h.01M425.8 148.6h.01M410.6 162.5h.01M431.1 174.9h.01M420.5 152.8h.01M382.2 140.1h.01M384.6 136.5h.01M411.8 143.8h.01M412.3 171.0h.01M426.5 141.8h.01M378.1 195.9h.01M369.7 147.5h.01M422.6 176.5h.01M381.2 140.2h.01M385.6 204.0h.01M447.9 57.6h.01M350.3 148.4h.01M338.0 217.3h.01M408.4 181.9h.01M334.7 172.1h.01M402.9 185.4h.01M363.4 204.8h.01M403.9 178.7h.01M431.5 168.1h.01M392.3 202.8h.01M411.2 174.2h.01M409.6 185.1h.01M408.7 172.6h.01M385.2 136.1h.01M408.6 192.7h.01M365.1 213.5h.01M430.2 190.4h.01M330.6 173.7h.01M430.3 170.6h.01M394.5 214.2h.01M401.6 137.2h.01M345.3 160.4h.01M426.0 152.2h.01M368.7 216.6h.01M367.2 199.3h.01M386.2 134.6h.01M396.4 181.5h.01M343.0 162.6h.01M360.3 152.1h.01M433.9 163.3h.01M320.9 182.7h.01M415.9 180.4h.01M409.5 143.2h.01M348.2 219.2h.01M371.2 210.1h.01M393.0 139.7h.01M380.5 139.2h.01M406.1 128.5h.01M319.7 172.4h.01M374.5 194.1h.01M401.2 141.7h.01M433.7 194.0h.01M386.9 187.3h.01M408.8 156.5h.01M403.4 141.8h.01M355.8 150.0h.01M376.0 199.1h.01M442.2 192.0h.01M407.2 153.8h.01M382.2 212.4h.01M404.7 190.3h.01M366.5 152.7h.01M381.6 200.9h.01M406.4 163.5h.01M393.8 182.4h.01M413.0 172.0h.01M382.1 188.5h.01M372.2 207.8h.01M379.7 203.3h.01M415.6 135.2h.01M396.6 142.3h.01M387.5 194.5h.01M388.9 188.2h.01M409.8 173.5h.01M408.0 166.5h.01M316.4 177.3h.01" fill="none" stroke="#2a2a2a" stroke-width="1.08" stroke-linecap="round"/>
<rect x="316" y="209.5" width="21.5" height="11.5" fill="#fff"/><text x="326.5" y="218.8" font-family="Liberation Serif, serif" font-weight="bold" font-size="12" stroke="#000" stroke-width="0.3" text-anchor="middle" textLength="18.5" lengthAdjust="spacingAndGlyphs">24.8</text>
<text x="317.4" y="46.2" font-family="Liberation Serif, serif" font-size="19" font-weight="normal" text-anchor="start" stroke="#000" stroke-width="0.42" >1.17</text>
<text x="503.3" y="47" font-family="Liberation Serif, serif" font-size="19" font-weight="normal" text-anchor="end" stroke="#000" stroke-width="0.42" >55.9</text>
<text x="503" y="214.3" font-family="Liberation Serif, serif" font-size="19" font-weight="normal" text-anchor="end" stroke="#000" stroke-width="0.42" >18.1</text>
<text x="407" y="14" font-family="Liberation Serif, serif" font-size="17" font-weight="normal" text-anchor="middle" textLength="42.5" lengthAdjust="spacingAndGlyphs" stroke="#000" stroke-width="0.2" >Day 2</text>
<text x="417" y="262.7" font-family="Liberation Serif, serif" font-size="18" font-weight="normal" text-anchor="middle" textLength="68.5" lengthAdjust="spacingAndGlyphs" stroke="#000" stroke-width="0.2" >VEGFR2</text>
<text transform="translate(274.8,138.7) rotate(-90)" font-family="Liberation Serif, serif" font-size="18" text-anchor="middle" textLength="71.5" lengthAdjust="spacingAndGlyphs" stroke="#000" stroke-width="0.2">VEGFR1</text>
<polygon points="57,477.2 57.0,422.4 57.8,430.0 59.6,447.4 62.0,440.0 67.3,422.4 70.2,399.3 72.2,380.0 74.0,353.6 77.0,320.8 79.0,311.0 80.8,306.4 82.0,312.0 82.8,320.8 84.0,316.0 85.3,313.1 86.0,321.8 88.5,329.5 93.4,338.2 96.2,353.6 98.2,380.6 101.0,405.0 105.9,437.8 109.7,457.0 113.6,468.6 119.4,473.4 131.0,475.8 150.0,476.2 150,477.2" fill="#dcdcdc" stroke="none"/>
<polyline points="57.0,422.4 57.8,430.0 59.6,447.4 62.0,440.0 67.3,422.4 70.2,399.3 72.2,380.0 74.0,353.6 77.0,320.8 79.0,311.0 80.8,306.4 82.0,312.0 82.8,320.8 84.0,316.0 85.3,313.1 86.0,321.8 88.5,329.5 93.4,338.2 96.2,353.6 98.2,380.6 101.0,405.0 105.9,437.8 109.7,457.0 113.6,468.6 119.4,473.4 131.0,475.8 150.0,476.2" fill="none" stroke="#222" stroke-width="1.15" stroke-linejoin="round"/>
<polyline points="57.0,475.5 67.3,474.8 75.0,472.1 77.0,471.5 78.9,470.6 80.0,471.0 82.0,468.5 84.7,466.7 86.0,467.0 88.5,464.8 92.4,453.2 96.2,437.8 99.1,418.5 102.0,395.4 104.0,367.0 106.8,336.2 109.7,322.8 112.0,304.5 114.5,317.0 116.5,320.8 118.4,344.0 122.3,380.6 124.2,408.9 127.1,437.8 131.0,461.0 133.8,470.6 137.7,474.8 150.0,476.2" fill="none" stroke="#222" stroke-width="1.15" stroke-linejoin="round"/>
<line x1="54.9" y1="284.9" x2="250.2" y2="284.9" stroke="#333" stroke-width="1.4"/>
<line x1="249.15" y1="284.3" x2="249.15" y2="478.4" stroke="#111" stroke-width="2.1"/>
<line x1="55.8" y1="284.3" x2="57" y2="478.4" stroke="#111" stroke-width="2.1"/>
<line x1="56" y1="477.5" x2="250.2" y2="477.5" stroke="#111" stroke-width="1.9"/>
<path d="M57.00 478v5.6M104.63 478v5.6M152.26 478v5.6M199.89 478v5.6M247.52 478v5.6" stroke="#111" stroke-width="1.7" fill="none"/>
<path d="M71.34 478v3.2M79.73 478v3.2M85.68 478v3.2M90.29 478v3.2M94.06 478v3.2M97.25 478v3.2M100.01 478v3.2M102.45 478v3.2M118.97 478v3.2M127.36 478v3.2M133.31 478v3.2M137.92 478v3.2M141.69 478v3.2M144.88 478v3.2M147.64 478v3.2M150.08 478v3.2M166.60 478v3.2M174.99 478v3.2M180.94 478v3.2M185.55 478v3.2M189.32 478v3.2M192.51 478v3.2M195.27 478v3.2M197.71 478v3.2M214.23 478v3.2M222.62 478v3.2M228.57 478v3.2M233.18 478v3.2M236.95 478v3.2M240.14 478v3.2M242.90 478v3.2M245.34 478v3.2" stroke="#111" stroke-width="1.35" fill="none"/>
<text x="57.50" y="495.3" font-family="Liberation Sans, sans-serif" font-size="11" font-weight="bold" text-anchor="middle" textLength="5.1" lengthAdjust="spacingAndGlyphs" fill="#000" stroke="#000" stroke-width="0.7">1</text>
<text x="105.13" y="495.3" font-family="Liberation Sans, sans-serif" font-size="11" font-weight="bold" text-anchor="middle" textLength="10.2" lengthAdjust="spacingAndGlyphs" fill="#000" stroke="#000" stroke-width="0.7">10</text>
<text x="152.76" y="495.3" font-family="Liberation Sans, sans-serif" font-size="11" font-weight="bold" text-anchor="middle" textLength="15.3" lengthAdjust="spacingAndGlyphs" fill="#000" stroke="#000" stroke-width="0.7">100</text>
<text x="200.39" y="495.3" font-family="Liberation Sans, sans-serif" font-size="11" font-weight="bold" text-anchor="middle" textLength="20.4" lengthAdjust="spacingAndGlyphs" fill="#000" stroke="#000" stroke-width="0.7">1000</text>
<text x="248.82" y="495.3" font-family="Liberation Sans, sans-serif" font-size="11" font-weight="bold" text-anchor="middle" textLength="25.5" lengthAdjust="spacingAndGlyphs" fill="#000" stroke="#000" stroke-width="0.7">10000</text>
<line x1="146" y1="294.6" x2="88" y2="307.3" stroke="#1a1a1a" stroke-width="1.25"/>
<polygon points="83.3,308.4 90.7,303.4 92.1,309.9" fill="#111"/>
<line x1="154.7" y1="311" x2="124" y2="315.3" stroke="#1a1a1a" stroke-width="1.25"/>
<polygon points="118.8,316 126.6,311.9 127.5,318.3" fill="#111"/>
<text x="150.3" y="297.5" font-family="Liberation Serif, serif" font-size="13.8" font-weight="normal" text-anchor="start" textLength="31.5" lengthAdjust="spacingAndGlyphs" stroke="#000" stroke-width="0.6" fill="#111">Day 0</text>
<text x="161.7" y="316" font-family="Liberation Serif, serif" font-size="13.8" font-weight="normal" text-anchor="start" textLength="31.5" lengthAdjust="spacingAndGlyphs" stroke="#000" stroke-width="0.6" fill="#111">Day 2</text>
<text x="150.9" y="517.5" font-family="Liberation Serif, serif" font-size="18.2" font-weight="normal" text-anchor="middle" textLength="68.5" lengthAdjust="spacingAndGlyphs" stroke="#000" stroke-width="0.2" >VEGFR1</text>
<text transform="translate(37.2,391.8) rotate(-90)" font-family="Liberation Serif, serif" font-size="18" text-anchor="middle" textLength="133" lengthAdjust="spacingAndGlyphs" stroke="#000" stroke-width="0.2">Relative cell count</text>
</svg>
</body></html>
